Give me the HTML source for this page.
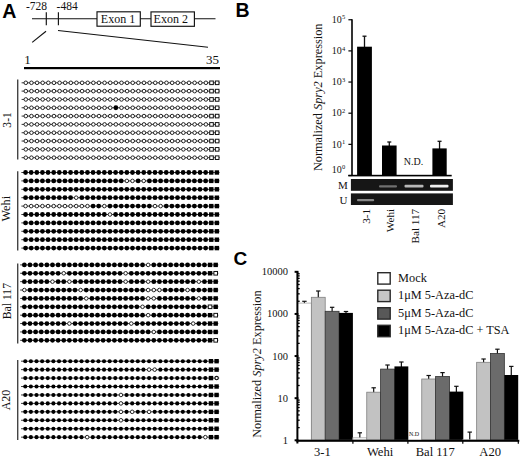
<!DOCTYPE html>
<html><head><meta charset="utf-8"><title>Figure</title>
<style>html,body{margin:0;padding:0;background:#fff;}svg{display:block;}</style>
</head><body>
<svg width="520" height="457" viewBox="0 0 520 457">
<rect width="520" height="457" fill="#fff"/>
<text x="2.3" y="17.6" font-family='"Liberation Sans", sans-serif' font-weight="bold" font-size="19.6">A</text>
<g font-family='"Liberation Serif", serif' font-size="11.5" fill="#111">
<text x="26" y="10.2">-728</text>
<text x="56.6" y="10.2">-484</text>
</g>
<g stroke="#111" stroke-width="1.15" fill="none">
<line x1="32" y1="18.75" x2="215.5" y2="18.75"/>
<line x1="46.3" y1="12.2" x2="46.3" y2="25.2"/>
<line x1="58.4" y1="12.2" x2="58.4" y2="25.2"/>
<rect x="97" y="11.8" width="43.3" height="14.4" fill="#fff"/>
<rect x="151" y="11.9" width="43.4" height="14.4" fill="#fff"/>
<line x1="46" y1="31.3" x2="32.2" y2="42.4"/>
<line x1="58" y1="30.5" x2="208" y2="47.2"/>
</g>
<g font-family='"Liberation Serif", serif' font-size="12" fill="#111">
<text x="100.8" y="23.4">Exon 1</text>
<text x="153.6" y="23.4">Exon 2</text>
</g>
<g font-family='"Liberation Serif", serif' font-size="13" fill="#111">
<text x="24.2" y="63.8">1</text>
<text x="205.9" y="63.8">35</text>
</g>
<rect x="24" y="67" width="196" height="2.2" fill="#000"/>
<line x1="17.7" y1="79.5" x2="17.7" y2="159.4" stroke="#444" stroke-width="1.4"/>
<text transform="translate(11.2,119.9) rotate(-90) scale(1.0,1)" text-anchor="middle" font-family='"Liberation Serif", serif' font-size="11.6" fill="#111">3-1</text>
<line x1="21.60" y1="82.8" x2="219.75" y2="82.8" stroke="#222" stroke-width="0.9"/>
<circle cx="25.8" cy="82.8" r="1.8" fill="#fff" stroke="#1a1a1a" stroke-width="0.95"/>
<circle cx="31.43" cy="82.8" r="1.8" fill="#fff" stroke="#1a1a1a" stroke-width="0.95"/>
<circle cx="37.06" cy="82.8" r="1.8" fill="#fff" stroke="#1a1a1a" stroke-width="0.95"/>
<circle cx="42.68" cy="82.8" r="1.8" fill="#fff" stroke="#1a1a1a" stroke-width="0.95"/>
<circle cx="48.31" cy="82.8" r="1.8" fill="#fff" stroke="#1a1a1a" stroke-width="0.95"/>
<circle cx="53.94" cy="82.8" r="1.8" fill="#fff" stroke="#1a1a1a" stroke-width="0.95"/>
<circle cx="59.57" cy="82.8" r="1.8" fill="#fff" stroke="#1a1a1a" stroke-width="0.95"/>
<circle cx="65.2" cy="82.8" r="1.8" fill="#fff" stroke="#1a1a1a" stroke-width="0.95"/>
<circle cx="70.82" cy="82.8" r="1.8" fill="#fff" stroke="#1a1a1a" stroke-width="0.95"/>
<circle cx="76.45" cy="82.8" r="1.8" fill="#fff" stroke="#1a1a1a" stroke-width="0.95"/>
<circle cx="82.08" cy="82.8" r="1.8" fill="#fff" stroke="#1a1a1a" stroke-width="0.95"/>
<circle cx="87.71" cy="82.8" r="1.8" fill="#fff" stroke="#1a1a1a" stroke-width="0.95"/>
<circle cx="93.34" cy="82.8" r="1.8" fill="#fff" stroke="#1a1a1a" stroke-width="0.95"/>
<circle cx="98.96" cy="82.8" r="1.8" fill="#fff" stroke="#1a1a1a" stroke-width="0.95"/>
<circle cx="104.59" cy="82.8" r="1.8" fill="#fff" stroke="#1a1a1a" stroke-width="0.95"/>
<circle cx="110.22" cy="82.8" r="1.8" fill="#fff" stroke="#1a1a1a" stroke-width="0.95"/>
<circle cx="115.85" cy="82.8" r="1.8" fill="#fff" stroke="#1a1a1a" stroke-width="0.95"/>
<circle cx="121.48" cy="82.8" r="1.8" fill="#fff" stroke="#1a1a1a" stroke-width="0.95"/>
<circle cx="127.1" cy="82.8" r="1.8" fill="#fff" stroke="#1a1a1a" stroke-width="0.95"/>
<circle cx="132.73" cy="82.8" r="1.8" fill="#fff" stroke="#1a1a1a" stroke-width="0.95"/>
<circle cx="138.36" cy="82.8" r="1.8" fill="#fff" stroke="#1a1a1a" stroke-width="0.95"/>
<circle cx="143.99" cy="82.8" r="1.8" fill="#fff" stroke="#1a1a1a" stroke-width="0.95"/>
<circle cx="149.62" cy="82.8" r="1.8" fill="#fff" stroke="#1a1a1a" stroke-width="0.95"/>
<circle cx="155.24" cy="82.8" r="1.8" fill="#fff" stroke="#1a1a1a" stroke-width="0.95"/>
<circle cx="160.87" cy="82.8" r="1.8" fill="#fff" stroke="#1a1a1a" stroke-width="0.95"/>
<circle cx="166.5" cy="82.8" r="1.8" fill="#fff" stroke="#1a1a1a" stroke-width="0.95"/>
<circle cx="172.13" cy="82.8" r="1.8" fill="#fff" stroke="#1a1a1a" stroke-width="0.95"/>
<circle cx="177.76" cy="82.8" r="1.8" fill="#fff" stroke="#1a1a1a" stroke-width="0.95"/>
<circle cx="183.38" cy="82.8" r="1.8" fill="#fff" stroke="#1a1a1a" stroke-width="0.95"/>
<circle cx="189.01" cy="82.8" r="1.8" fill="#fff" stroke="#1a1a1a" stroke-width="0.95"/>
<circle cx="194.64" cy="82.8" r="1.8" fill="#fff" stroke="#1a1a1a" stroke-width="0.95"/>
<circle cx="200.27" cy="82.8" r="1.8" fill="#fff" stroke="#1a1a1a" stroke-width="0.95"/>
<circle cx="205.9" cy="82.8" r="1.8" fill="#fff" stroke="#1a1a1a" stroke-width="0.95"/>
<rect x="209.72" y="81.00" width="3.6" height="3.6" fill="#fff" stroke="#111" stroke-width="1"/>
<rect x="215.35" y="81.00" width="3.6" height="3.6" fill="#fff" stroke="#111" stroke-width="1"/>
<line x1="21.60" y1="91.12" x2="219.75" y2="91.12" stroke="#222" stroke-width="0.9"/>
<circle cx="25.8" cy="91.12" r="1.8" fill="#fff" stroke="#1a1a1a" stroke-width="0.95"/>
<circle cx="31.43" cy="91.12" r="1.8" fill="#fff" stroke="#1a1a1a" stroke-width="0.95"/>
<circle cx="37.06" cy="91.12" r="1.8" fill="#fff" stroke="#1a1a1a" stroke-width="0.95"/>
<circle cx="42.68" cy="91.12" r="1.8" fill="#fff" stroke="#1a1a1a" stroke-width="0.95"/>
<circle cx="48.31" cy="91.12" r="1.8" fill="#fff" stroke="#1a1a1a" stroke-width="0.95"/>
<circle cx="53.94" cy="91.12" r="1.8" fill="#fff" stroke="#1a1a1a" stroke-width="0.95"/>
<circle cx="59.57" cy="91.12" r="1.8" fill="#fff" stroke="#1a1a1a" stroke-width="0.95"/>
<circle cx="65.2" cy="91.12" r="1.8" fill="#fff" stroke="#1a1a1a" stroke-width="0.95"/>
<circle cx="70.82" cy="91.12" r="1.8" fill="#fff" stroke="#1a1a1a" stroke-width="0.95"/>
<circle cx="76.45" cy="91.12" r="1.8" fill="#fff" stroke="#1a1a1a" stroke-width="0.95"/>
<circle cx="82.08" cy="91.12" r="1.8" fill="#fff" stroke="#1a1a1a" stroke-width="0.95"/>
<circle cx="87.71" cy="91.12" r="1.8" fill="#fff" stroke="#1a1a1a" stroke-width="0.95"/>
<circle cx="93.34" cy="91.12" r="1.8" fill="#fff" stroke="#1a1a1a" stroke-width="0.95"/>
<circle cx="98.96" cy="91.12" r="1.8" fill="#fff" stroke="#1a1a1a" stroke-width="0.95"/>
<circle cx="104.59" cy="91.12" r="1.8" fill="#fff" stroke="#1a1a1a" stroke-width="0.95"/>
<circle cx="110.22" cy="91.12" r="1.8" fill="#fff" stroke="#1a1a1a" stroke-width="0.95"/>
<circle cx="115.85" cy="91.12" r="1.8" fill="#fff" stroke="#1a1a1a" stroke-width="0.95"/>
<circle cx="121.48" cy="91.12" r="1.8" fill="#fff" stroke="#1a1a1a" stroke-width="0.95"/>
<circle cx="127.1" cy="91.12" r="1.8" fill="#fff" stroke="#1a1a1a" stroke-width="0.95"/>
<circle cx="132.73" cy="91.12" r="1.8" fill="#fff" stroke="#1a1a1a" stroke-width="0.95"/>
<circle cx="138.36" cy="91.12" r="1.8" fill="#fff" stroke="#1a1a1a" stroke-width="0.95"/>
<circle cx="143.99" cy="91.12" r="1.8" fill="#fff" stroke="#1a1a1a" stroke-width="0.95"/>
<circle cx="149.62" cy="91.12" r="1.8" fill="#fff" stroke="#1a1a1a" stroke-width="0.95"/>
<circle cx="155.24" cy="91.12" r="1.8" fill="#fff" stroke="#1a1a1a" stroke-width="0.95"/>
<circle cx="160.87" cy="91.12" r="1.8" fill="#fff" stroke="#1a1a1a" stroke-width="0.95"/>
<circle cx="166.5" cy="91.12" r="1.8" fill="#fff" stroke="#1a1a1a" stroke-width="0.95"/>
<circle cx="172.13" cy="91.12" r="1.8" fill="#fff" stroke="#1a1a1a" stroke-width="0.95"/>
<circle cx="177.76" cy="91.12" r="1.8" fill="#fff" stroke="#1a1a1a" stroke-width="0.95"/>
<circle cx="183.38" cy="91.12" r="1.8" fill="#fff" stroke="#1a1a1a" stroke-width="0.95"/>
<circle cx="189.01" cy="91.12" r="1.8" fill="#fff" stroke="#1a1a1a" stroke-width="0.95"/>
<circle cx="194.64" cy="91.12" r="1.8" fill="#fff" stroke="#1a1a1a" stroke-width="0.95"/>
<circle cx="200.27" cy="91.12" r="1.8" fill="#fff" stroke="#1a1a1a" stroke-width="0.95"/>
<circle cx="205.9" cy="91.12" r="1.8" fill="#fff" stroke="#1a1a1a" stroke-width="0.95"/>
<rect x="209.72" y="89.32" width="3.6" height="3.6" fill="#fff" stroke="#111" stroke-width="1"/>
<rect x="215.35" y="89.32" width="3.6" height="3.6" fill="#fff" stroke="#111" stroke-width="1"/>
<line x1="21.60" y1="99.44" x2="219.75" y2="99.44" stroke="#222" stroke-width="0.9"/>
<circle cx="25.8" cy="99.44" r="1.8" fill="#fff" stroke="#1a1a1a" stroke-width="0.95"/>
<circle cx="31.43" cy="99.44" r="1.8" fill="#fff" stroke="#1a1a1a" stroke-width="0.95"/>
<circle cx="37.06" cy="99.44" r="1.8" fill="#fff" stroke="#1a1a1a" stroke-width="0.95"/>
<circle cx="42.68" cy="99.44" r="1.8" fill="#fff" stroke="#1a1a1a" stroke-width="0.95"/>
<circle cx="48.31" cy="99.44" r="1.8" fill="#fff" stroke="#1a1a1a" stroke-width="0.95"/>
<circle cx="53.94" cy="99.44" r="1.8" fill="#fff" stroke="#1a1a1a" stroke-width="0.95"/>
<circle cx="59.57" cy="99.44" r="1.8" fill="#fff" stroke="#1a1a1a" stroke-width="0.95"/>
<circle cx="65.2" cy="99.44" r="1.8" fill="#fff" stroke="#1a1a1a" stroke-width="0.95"/>
<circle cx="70.82" cy="99.44" r="1.8" fill="#fff" stroke="#1a1a1a" stroke-width="0.95"/>
<circle cx="76.45" cy="99.44" r="1.8" fill="#fff" stroke="#1a1a1a" stroke-width="0.95"/>
<circle cx="82.08" cy="99.44" r="1.8" fill="#fff" stroke="#1a1a1a" stroke-width="0.95"/>
<circle cx="87.71" cy="99.44" r="1.8" fill="#fff" stroke="#1a1a1a" stroke-width="0.95"/>
<circle cx="93.34" cy="99.44" r="1.8" fill="#fff" stroke="#1a1a1a" stroke-width="0.95"/>
<circle cx="98.96" cy="99.44" r="1.8" fill="#fff" stroke="#1a1a1a" stroke-width="0.95"/>
<circle cx="104.59" cy="99.44" r="1.8" fill="#fff" stroke="#1a1a1a" stroke-width="0.95"/>
<circle cx="110.22" cy="99.44" r="1.8" fill="#fff" stroke="#1a1a1a" stroke-width="0.95"/>
<circle cx="115.85" cy="99.44" r="1.8" fill="#fff" stroke="#1a1a1a" stroke-width="0.95"/>
<circle cx="121.48" cy="99.44" r="1.8" fill="#fff" stroke="#1a1a1a" stroke-width="0.95"/>
<circle cx="127.1" cy="99.44" r="1.8" fill="#fff" stroke="#1a1a1a" stroke-width="0.95"/>
<circle cx="132.73" cy="99.44" r="1.8" fill="#fff" stroke="#1a1a1a" stroke-width="0.95"/>
<circle cx="138.36" cy="99.44" r="1.8" fill="#fff" stroke="#1a1a1a" stroke-width="0.95"/>
<circle cx="143.99" cy="99.44" r="1.8" fill="#fff" stroke="#1a1a1a" stroke-width="0.95"/>
<circle cx="149.62" cy="99.44" r="1.8" fill="#fff" stroke="#1a1a1a" stroke-width="0.95"/>
<circle cx="155.24" cy="99.44" r="1.8" fill="#fff" stroke="#1a1a1a" stroke-width="0.95"/>
<circle cx="160.87" cy="99.44" r="1.8" fill="#fff" stroke="#1a1a1a" stroke-width="0.95"/>
<circle cx="166.5" cy="99.44" r="1.8" fill="#fff" stroke="#1a1a1a" stroke-width="0.95"/>
<circle cx="172.13" cy="99.44" r="1.8" fill="#fff" stroke="#1a1a1a" stroke-width="0.95"/>
<circle cx="177.76" cy="99.44" r="1.8" fill="#fff" stroke="#1a1a1a" stroke-width="0.95"/>
<circle cx="183.38" cy="99.44" r="1.8" fill="#fff" stroke="#1a1a1a" stroke-width="0.95"/>
<circle cx="189.01" cy="99.44" r="1.8" fill="#fff" stroke="#1a1a1a" stroke-width="0.95"/>
<circle cx="194.64" cy="99.44" r="1.8" fill="#fff" stroke="#1a1a1a" stroke-width="0.95"/>
<circle cx="200.27" cy="99.44" r="1.8" fill="#fff" stroke="#1a1a1a" stroke-width="0.95"/>
<circle cx="205.9" cy="99.44" r="1.8" fill="#fff" stroke="#1a1a1a" stroke-width="0.95"/>
<rect x="209.72" y="97.64" width="3.6" height="3.6" fill="#fff" stroke="#111" stroke-width="1"/>
<rect x="215.35" y="97.64" width="3.6" height="3.6" fill="#fff" stroke="#111" stroke-width="1"/>
<line x1="21.60" y1="107.76" x2="219.75" y2="107.76" stroke="#222" stroke-width="0.9"/>
<circle cx="25.8" cy="107.76" r="1.8" fill="#fff" stroke="#1a1a1a" stroke-width="0.95"/>
<circle cx="31.43" cy="107.76" r="1.8" fill="#fff" stroke="#1a1a1a" stroke-width="0.95"/>
<circle cx="37.06" cy="107.76" r="1.8" fill="#fff" stroke="#1a1a1a" stroke-width="0.95"/>
<circle cx="42.68" cy="107.76" r="1.8" fill="#fff" stroke="#1a1a1a" stroke-width="0.95"/>
<circle cx="48.31" cy="107.76" r="1.8" fill="#fff" stroke="#1a1a1a" stroke-width="0.95"/>
<circle cx="53.94" cy="107.76" r="1.8" fill="#fff" stroke="#1a1a1a" stroke-width="0.95"/>
<circle cx="59.57" cy="107.76" r="1.8" fill="#fff" stroke="#1a1a1a" stroke-width="0.95"/>
<circle cx="65.2" cy="107.76" r="1.8" fill="#fff" stroke="#1a1a1a" stroke-width="0.95"/>
<circle cx="70.82" cy="107.76" r="1.8" fill="#fff" stroke="#1a1a1a" stroke-width="0.95"/>
<circle cx="76.45" cy="107.76" r="1.8" fill="#fff" stroke="#1a1a1a" stroke-width="0.95"/>
<circle cx="82.08" cy="107.76" r="1.8" fill="#fff" stroke="#1a1a1a" stroke-width="0.95"/>
<circle cx="87.71" cy="107.76" r="1.8" fill="#fff" stroke="#1a1a1a" stroke-width="0.95"/>
<circle cx="93.34" cy="107.76" r="1.8" fill="#fff" stroke="#1a1a1a" stroke-width="0.95"/>
<circle cx="98.96" cy="107.76" r="1.8" fill="#fff" stroke="#1a1a1a" stroke-width="0.95"/>
<circle cx="104.59" cy="107.76" r="1.8" fill="#fff" stroke="#1a1a1a" stroke-width="0.95"/>
<circle cx="110.22" cy="107.76" r="1.8" fill="#fff" stroke="#1a1a1a" stroke-width="0.95"/>
<circle cx="115.85" cy="107.76" r="2.4" fill="#000"/>
<circle cx="121.48" cy="107.76" r="1.8" fill="#fff" stroke="#1a1a1a" stroke-width="0.95"/>
<circle cx="127.1" cy="107.76" r="1.8" fill="#fff" stroke="#1a1a1a" stroke-width="0.95"/>
<circle cx="132.73" cy="107.76" r="1.8" fill="#fff" stroke="#1a1a1a" stroke-width="0.95"/>
<circle cx="138.36" cy="107.76" r="1.8" fill="#fff" stroke="#1a1a1a" stroke-width="0.95"/>
<circle cx="143.99" cy="107.76" r="1.8" fill="#fff" stroke="#1a1a1a" stroke-width="0.95"/>
<circle cx="149.62" cy="107.76" r="1.8" fill="#fff" stroke="#1a1a1a" stroke-width="0.95"/>
<circle cx="155.24" cy="107.76" r="1.8" fill="#fff" stroke="#1a1a1a" stroke-width="0.95"/>
<circle cx="160.87" cy="107.76" r="1.8" fill="#fff" stroke="#1a1a1a" stroke-width="0.95"/>
<circle cx="166.5" cy="107.76" r="1.8" fill="#fff" stroke="#1a1a1a" stroke-width="0.95"/>
<circle cx="172.13" cy="107.76" r="1.8" fill="#fff" stroke="#1a1a1a" stroke-width="0.95"/>
<circle cx="177.76" cy="107.76" r="1.8" fill="#fff" stroke="#1a1a1a" stroke-width="0.95"/>
<circle cx="183.38" cy="107.76" r="1.8" fill="#fff" stroke="#1a1a1a" stroke-width="0.95"/>
<circle cx="189.01" cy="107.76" r="1.8" fill="#fff" stroke="#1a1a1a" stroke-width="0.95"/>
<circle cx="194.64" cy="107.76" r="1.8" fill="#fff" stroke="#1a1a1a" stroke-width="0.95"/>
<circle cx="200.27" cy="107.76" r="1.8" fill="#fff" stroke="#1a1a1a" stroke-width="0.95"/>
<circle cx="205.9" cy="107.76" r="1.8" fill="#fff" stroke="#1a1a1a" stroke-width="0.95"/>
<rect x="209.72" y="105.96" width="3.6" height="3.6" fill="#fff" stroke="#111" stroke-width="1"/>
<rect x="215.35" y="105.96" width="3.6" height="3.6" fill="#fff" stroke="#111" stroke-width="1"/>
<line x1="21.60" y1="116.08" x2="219.75" y2="116.08" stroke="#222" stroke-width="0.9"/>
<circle cx="25.8" cy="116.08" r="1.8" fill="#fff" stroke="#1a1a1a" stroke-width="0.95"/>
<circle cx="31.43" cy="116.08" r="1.8" fill="#fff" stroke="#1a1a1a" stroke-width="0.95"/>
<circle cx="37.06" cy="116.08" r="1.8" fill="#fff" stroke="#1a1a1a" stroke-width="0.95"/>
<circle cx="42.68" cy="116.08" r="1.8" fill="#fff" stroke="#1a1a1a" stroke-width="0.95"/>
<circle cx="48.31" cy="116.08" r="1.8" fill="#fff" stroke="#1a1a1a" stroke-width="0.95"/>
<circle cx="53.94" cy="116.08" r="1.8" fill="#fff" stroke="#1a1a1a" stroke-width="0.95"/>
<circle cx="59.57" cy="116.08" r="1.8" fill="#fff" stroke="#1a1a1a" stroke-width="0.95"/>
<circle cx="65.2" cy="116.08" r="1.8" fill="#fff" stroke="#1a1a1a" stroke-width="0.95"/>
<circle cx="70.82" cy="116.08" r="1.8" fill="#fff" stroke="#1a1a1a" stroke-width="0.95"/>
<circle cx="76.45" cy="116.08" r="1.8" fill="#fff" stroke="#1a1a1a" stroke-width="0.95"/>
<circle cx="82.08" cy="116.08" r="1.8" fill="#fff" stroke="#1a1a1a" stroke-width="0.95"/>
<circle cx="87.71" cy="116.08" r="1.8" fill="#fff" stroke="#1a1a1a" stroke-width="0.95"/>
<circle cx="93.34" cy="116.08" r="1.8" fill="#fff" stroke="#1a1a1a" stroke-width="0.95"/>
<circle cx="98.96" cy="116.08" r="1.8" fill="#fff" stroke="#1a1a1a" stroke-width="0.95"/>
<circle cx="104.59" cy="116.08" r="1.8" fill="#fff" stroke="#1a1a1a" stroke-width="0.95"/>
<circle cx="110.22" cy="116.08" r="1.8" fill="#fff" stroke="#1a1a1a" stroke-width="0.95"/>
<circle cx="115.85" cy="116.08" r="1.8" fill="#fff" stroke="#1a1a1a" stroke-width="0.95"/>
<circle cx="121.48" cy="116.08" r="1.8" fill="#fff" stroke="#1a1a1a" stroke-width="0.95"/>
<circle cx="127.1" cy="116.08" r="1.8" fill="#fff" stroke="#1a1a1a" stroke-width="0.95"/>
<circle cx="132.73" cy="116.08" r="1.8" fill="#fff" stroke="#1a1a1a" stroke-width="0.95"/>
<circle cx="138.36" cy="116.08" r="1.8" fill="#fff" stroke="#1a1a1a" stroke-width="0.95"/>
<circle cx="143.99" cy="116.08" r="1.8" fill="#fff" stroke="#1a1a1a" stroke-width="0.95"/>
<circle cx="149.62" cy="116.08" r="1.8" fill="#fff" stroke="#1a1a1a" stroke-width="0.95"/>
<circle cx="155.24" cy="116.08" r="1.8" fill="#fff" stroke="#1a1a1a" stroke-width="0.95"/>
<circle cx="160.87" cy="116.08" r="1.8" fill="#fff" stroke="#1a1a1a" stroke-width="0.95"/>
<circle cx="166.5" cy="116.08" r="1.8" fill="#fff" stroke="#1a1a1a" stroke-width="0.95"/>
<circle cx="172.13" cy="116.08" r="1.8" fill="#fff" stroke="#1a1a1a" stroke-width="0.95"/>
<circle cx="177.76" cy="116.08" r="1.8" fill="#fff" stroke="#1a1a1a" stroke-width="0.95"/>
<circle cx="183.38" cy="116.08" r="1.8" fill="#fff" stroke="#1a1a1a" stroke-width="0.95"/>
<circle cx="189.01" cy="116.08" r="1.8" fill="#fff" stroke="#1a1a1a" stroke-width="0.95"/>
<circle cx="194.64" cy="116.08" r="1.8" fill="#fff" stroke="#1a1a1a" stroke-width="0.95"/>
<circle cx="200.27" cy="116.08" r="1.8" fill="#fff" stroke="#1a1a1a" stroke-width="0.95"/>
<circle cx="205.9" cy="116.08" r="1.8" fill="#fff" stroke="#1a1a1a" stroke-width="0.95"/>
<rect x="209.72" y="114.28" width="3.6" height="3.6" fill="#fff" stroke="#111" stroke-width="1"/>
<rect x="215.35" y="114.28" width="3.6" height="3.6" fill="#fff" stroke="#111" stroke-width="1"/>
<line x1="21.60" y1="124.4" x2="219.75" y2="124.4" stroke="#222" stroke-width="0.9"/>
<circle cx="25.8" cy="124.4" r="1.8" fill="#fff" stroke="#1a1a1a" stroke-width="0.95"/>
<circle cx="31.43" cy="124.4" r="1.8" fill="#fff" stroke="#1a1a1a" stroke-width="0.95"/>
<circle cx="37.06" cy="124.4" r="1.8" fill="#fff" stroke="#1a1a1a" stroke-width="0.95"/>
<circle cx="42.68" cy="124.4" r="1.8" fill="#fff" stroke="#1a1a1a" stroke-width="0.95"/>
<circle cx="48.31" cy="124.4" r="1.8" fill="#fff" stroke="#1a1a1a" stroke-width="0.95"/>
<circle cx="53.94" cy="124.4" r="1.8" fill="#fff" stroke="#1a1a1a" stroke-width="0.95"/>
<circle cx="59.57" cy="124.4" r="1.8" fill="#fff" stroke="#1a1a1a" stroke-width="0.95"/>
<circle cx="65.2" cy="124.4" r="1.8" fill="#fff" stroke="#1a1a1a" stroke-width="0.95"/>
<circle cx="70.82" cy="124.4" r="1.8" fill="#fff" stroke="#1a1a1a" stroke-width="0.95"/>
<circle cx="76.45" cy="124.4" r="1.8" fill="#fff" stroke="#1a1a1a" stroke-width="0.95"/>
<circle cx="82.08" cy="124.4" r="1.8" fill="#fff" stroke="#1a1a1a" stroke-width="0.95"/>
<circle cx="87.71" cy="124.4" r="1.8" fill="#fff" stroke="#1a1a1a" stroke-width="0.95"/>
<circle cx="93.34" cy="124.4" r="1.8" fill="#fff" stroke="#1a1a1a" stroke-width="0.95"/>
<circle cx="98.96" cy="124.4" r="1.8" fill="#fff" stroke="#1a1a1a" stroke-width="0.95"/>
<circle cx="104.59" cy="124.4" r="1.8" fill="#fff" stroke="#1a1a1a" stroke-width="0.95"/>
<circle cx="110.22" cy="124.4" r="1.8" fill="#fff" stroke="#1a1a1a" stroke-width="0.95"/>
<circle cx="115.85" cy="124.4" r="1.8" fill="#fff" stroke="#1a1a1a" stroke-width="0.95"/>
<circle cx="121.48" cy="124.4" r="1.8" fill="#fff" stroke="#1a1a1a" stroke-width="0.95"/>
<circle cx="127.1" cy="124.4" r="1.8" fill="#fff" stroke="#1a1a1a" stroke-width="0.95"/>
<circle cx="132.73" cy="124.4" r="1.8" fill="#fff" stroke="#1a1a1a" stroke-width="0.95"/>
<circle cx="138.36" cy="124.4" r="1.8" fill="#fff" stroke="#1a1a1a" stroke-width="0.95"/>
<circle cx="143.99" cy="124.4" r="1.8" fill="#fff" stroke="#1a1a1a" stroke-width="0.95"/>
<circle cx="149.62" cy="124.4" r="1.8" fill="#fff" stroke="#1a1a1a" stroke-width="0.95"/>
<circle cx="155.24" cy="124.4" r="1.8" fill="#fff" stroke="#1a1a1a" stroke-width="0.95"/>
<circle cx="160.87" cy="124.4" r="1.8" fill="#fff" stroke="#1a1a1a" stroke-width="0.95"/>
<circle cx="166.5" cy="124.4" r="1.8" fill="#fff" stroke="#1a1a1a" stroke-width="0.95"/>
<circle cx="172.13" cy="124.4" r="1.8" fill="#fff" stroke="#1a1a1a" stroke-width="0.95"/>
<circle cx="177.76" cy="124.4" r="1.8" fill="#fff" stroke="#1a1a1a" stroke-width="0.95"/>
<circle cx="183.38" cy="124.4" r="1.8" fill="#fff" stroke="#1a1a1a" stroke-width="0.95"/>
<circle cx="189.01" cy="124.4" r="1.8" fill="#fff" stroke="#1a1a1a" stroke-width="0.95"/>
<circle cx="194.64" cy="124.4" r="1.8" fill="#fff" stroke="#1a1a1a" stroke-width="0.95"/>
<circle cx="200.27" cy="124.4" r="1.8" fill="#fff" stroke="#1a1a1a" stroke-width="0.95"/>
<circle cx="205.9" cy="124.4" r="1.8" fill="#fff" stroke="#1a1a1a" stroke-width="0.95"/>
<rect x="209.72" y="122.60" width="3.6" height="3.6" fill="#fff" stroke="#111" stroke-width="1"/>
<rect x="215.35" y="122.60" width="3.6" height="3.6" fill="#fff" stroke="#111" stroke-width="1"/>
<line x1="21.60" y1="132.72" x2="219.75" y2="132.72" stroke="#222" stroke-width="0.9"/>
<circle cx="25.8" cy="132.72" r="1.8" fill="#fff" stroke="#1a1a1a" stroke-width="0.95"/>
<circle cx="31.43" cy="132.72" r="1.8" fill="#fff" stroke="#1a1a1a" stroke-width="0.95"/>
<circle cx="37.06" cy="132.72" r="1.8" fill="#fff" stroke="#1a1a1a" stroke-width="0.95"/>
<circle cx="42.68" cy="132.72" r="1.8" fill="#fff" stroke="#1a1a1a" stroke-width="0.95"/>
<circle cx="48.31" cy="132.72" r="1.8" fill="#fff" stroke="#1a1a1a" stroke-width="0.95"/>
<circle cx="53.94" cy="132.72" r="1.8" fill="#fff" stroke="#1a1a1a" stroke-width="0.95"/>
<circle cx="59.57" cy="132.72" r="1.8" fill="#fff" stroke="#1a1a1a" stroke-width="0.95"/>
<circle cx="65.2" cy="132.72" r="1.8" fill="#fff" stroke="#1a1a1a" stroke-width="0.95"/>
<circle cx="70.82" cy="132.72" r="1.8" fill="#fff" stroke="#1a1a1a" stroke-width="0.95"/>
<circle cx="76.45" cy="132.72" r="1.8" fill="#fff" stroke="#1a1a1a" stroke-width="0.95"/>
<circle cx="82.08" cy="132.72" r="1.8" fill="#fff" stroke="#1a1a1a" stroke-width="0.95"/>
<circle cx="87.71" cy="132.72" r="1.8" fill="#fff" stroke="#1a1a1a" stroke-width="0.95"/>
<circle cx="93.34" cy="132.72" r="1.8" fill="#fff" stroke="#1a1a1a" stroke-width="0.95"/>
<circle cx="98.96" cy="132.72" r="1.8" fill="#fff" stroke="#1a1a1a" stroke-width="0.95"/>
<circle cx="104.59" cy="132.72" r="1.8" fill="#fff" stroke="#1a1a1a" stroke-width="0.95"/>
<circle cx="110.22" cy="132.72" r="1.8" fill="#fff" stroke="#1a1a1a" stroke-width="0.95"/>
<circle cx="115.85" cy="132.72" r="1.8" fill="#fff" stroke="#1a1a1a" stroke-width="0.95"/>
<circle cx="121.48" cy="132.72" r="1.8" fill="#fff" stroke="#1a1a1a" stroke-width="0.95"/>
<circle cx="127.1" cy="132.72" r="1.8" fill="#fff" stroke="#1a1a1a" stroke-width="0.95"/>
<circle cx="132.73" cy="132.72" r="1.8" fill="#fff" stroke="#1a1a1a" stroke-width="0.95"/>
<circle cx="138.36" cy="132.72" r="1.8" fill="#fff" stroke="#1a1a1a" stroke-width="0.95"/>
<circle cx="143.99" cy="132.72" r="1.8" fill="#fff" stroke="#1a1a1a" stroke-width="0.95"/>
<circle cx="149.62" cy="132.72" r="1.8" fill="#fff" stroke="#1a1a1a" stroke-width="0.95"/>
<circle cx="155.24" cy="132.72" r="1.8" fill="#fff" stroke="#1a1a1a" stroke-width="0.95"/>
<circle cx="160.87" cy="132.72" r="1.8" fill="#fff" stroke="#1a1a1a" stroke-width="0.95"/>
<circle cx="166.5" cy="132.72" r="1.8" fill="#fff" stroke="#1a1a1a" stroke-width="0.95"/>
<circle cx="172.13" cy="132.72" r="1.8" fill="#fff" stroke="#1a1a1a" stroke-width="0.95"/>
<circle cx="177.76" cy="132.72" r="1.8" fill="#fff" stroke="#1a1a1a" stroke-width="0.95"/>
<circle cx="183.38" cy="132.72" r="1.8" fill="#fff" stroke="#1a1a1a" stroke-width="0.95"/>
<circle cx="189.01" cy="132.72" r="1.8" fill="#fff" stroke="#1a1a1a" stroke-width="0.95"/>
<circle cx="194.64" cy="132.72" r="1.8" fill="#fff" stroke="#1a1a1a" stroke-width="0.95"/>
<circle cx="200.27" cy="132.72" r="1.8" fill="#fff" stroke="#1a1a1a" stroke-width="0.95"/>
<circle cx="205.9" cy="132.72" r="1.8" fill="#fff" stroke="#1a1a1a" stroke-width="0.95"/>
<rect x="209.72" y="130.92" width="3.6" height="3.6" fill="#fff" stroke="#111" stroke-width="1"/>
<rect x="215.35" y="130.92" width="3.6" height="3.6" fill="#fff" stroke="#111" stroke-width="1"/>
<line x1="21.60" y1="141.04" x2="219.75" y2="141.04" stroke="#222" stroke-width="0.9"/>
<circle cx="25.8" cy="141.04" r="1.8" fill="#fff" stroke="#1a1a1a" stroke-width="0.95"/>
<circle cx="31.43" cy="141.04" r="1.8" fill="#fff" stroke="#1a1a1a" stroke-width="0.95"/>
<circle cx="37.06" cy="141.04" r="1.8" fill="#fff" stroke="#1a1a1a" stroke-width="0.95"/>
<circle cx="42.68" cy="141.04" r="1.8" fill="#fff" stroke="#1a1a1a" stroke-width="0.95"/>
<circle cx="48.31" cy="141.04" r="1.8" fill="#fff" stroke="#1a1a1a" stroke-width="0.95"/>
<circle cx="53.94" cy="141.04" r="1.8" fill="#fff" stroke="#1a1a1a" stroke-width="0.95"/>
<circle cx="59.57" cy="141.04" r="1.8" fill="#fff" stroke="#1a1a1a" stroke-width="0.95"/>
<circle cx="65.2" cy="141.04" r="1.8" fill="#fff" stroke="#1a1a1a" stroke-width="0.95"/>
<circle cx="70.82" cy="141.04" r="1.8" fill="#fff" stroke="#1a1a1a" stroke-width="0.95"/>
<circle cx="76.45" cy="141.04" r="1.8" fill="#fff" stroke="#1a1a1a" stroke-width="0.95"/>
<circle cx="82.08" cy="141.04" r="1.8" fill="#fff" stroke="#1a1a1a" stroke-width="0.95"/>
<circle cx="87.71" cy="141.04" r="1.8" fill="#fff" stroke="#1a1a1a" stroke-width="0.95"/>
<circle cx="93.34" cy="141.04" r="1.8" fill="#fff" stroke="#1a1a1a" stroke-width="0.95"/>
<circle cx="98.96" cy="141.04" r="1.8" fill="#fff" stroke="#1a1a1a" stroke-width="0.95"/>
<circle cx="104.59" cy="141.04" r="1.8" fill="#fff" stroke="#1a1a1a" stroke-width="0.95"/>
<circle cx="110.22" cy="141.04" r="1.8" fill="#fff" stroke="#1a1a1a" stroke-width="0.95"/>
<circle cx="115.85" cy="141.04" r="1.8" fill="#fff" stroke="#1a1a1a" stroke-width="0.95"/>
<circle cx="121.48" cy="141.04" r="1.8" fill="#fff" stroke="#1a1a1a" stroke-width="0.95"/>
<circle cx="127.1" cy="141.04" r="1.8" fill="#fff" stroke="#1a1a1a" stroke-width="0.95"/>
<circle cx="132.73" cy="141.04" r="1.8" fill="#fff" stroke="#1a1a1a" stroke-width="0.95"/>
<circle cx="138.36" cy="141.04" r="1.8" fill="#fff" stroke="#1a1a1a" stroke-width="0.95"/>
<circle cx="143.99" cy="141.04" r="1.8" fill="#fff" stroke="#1a1a1a" stroke-width="0.95"/>
<circle cx="149.62" cy="141.04" r="1.8" fill="#fff" stroke="#1a1a1a" stroke-width="0.95"/>
<circle cx="155.24" cy="141.04" r="1.8" fill="#fff" stroke="#1a1a1a" stroke-width="0.95"/>
<circle cx="160.87" cy="141.04" r="1.8" fill="#fff" stroke="#1a1a1a" stroke-width="0.95"/>
<circle cx="166.5" cy="141.04" r="1.8" fill="#fff" stroke="#1a1a1a" stroke-width="0.95"/>
<circle cx="172.13" cy="141.04" r="1.8" fill="#fff" stroke="#1a1a1a" stroke-width="0.95"/>
<circle cx="177.76" cy="141.04" r="1.8" fill="#fff" stroke="#1a1a1a" stroke-width="0.95"/>
<circle cx="183.38" cy="141.04" r="1.8" fill="#fff" stroke="#1a1a1a" stroke-width="0.95"/>
<circle cx="189.01" cy="141.04" r="1.8" fill="#fff" stroke="#1a1a1a" stroke-width="0.95"/>
<circle cx="194.64" cy="141.04" r="1.8" fill="#fff" stroke="#1a1a1a" stroke-width="0.95"/>
<circle cx="200.27" cy="141.04" r="1.8" fill="#fff" stroke="#1a1a1a" stroke-width="0.95"/>
<circle cx="205.9" cy="141.04" r="1.8" fill="#fff" stroke="#1a1a1a" stroke-width="0.95"/>
<rect x="209.72" y="139.24" width="3.6" height="3.6" fill="#fff" stroke="#111" stroke-width="1"/>
<rect x="215.35" y="139.24" width="3.6" height="3.6" fill="#fff" stroke="#111" stroke-width="1"/>
<line x1="21.60" y1="149.36" x2="219.75" y2="149.36" stroke="#222" stroke-width="0.9"/>
<circle cx="25.8" cy="149.36" r="1.8" fill="#fff" stroke="#1a1a1a" stroke-width="0.95"/>
<circle cx="31.43" cy="149.36" r="1.8" fill="#fff" stroke="#1a1a1a" stroke-width="0.95"/>
<circle cx="37.06" cy="149.36" r="1.8" fill="#fff" stroke="#1a1a1a" stroke-width="0.95"/>
<circle cx="42.68" cy="149.36" r="1.8" fill="#fff" stroke="#1a1a1a" stroke-width="0.95"/>
<circle cx="48.31" cy="149.36" r="1.8" fill="#fff" stroke="#1a1a1a" stroke-width="0.95"/>
<circle cx="53.94" cy="149.36" r="1.8" fill="#fff" stroke="#1a1a1a" stroke-width="0.95"/>
<circle cx="59.57" cy="149.36" r="1.8" fill="#fff" stroke="#1a1a1a" stroke-width="0.95"/>
<circle cx="65.2" cy="149.36" r="1.8" fill="#fff" stroke="#1a1a1a" stroke-width="0.95"/>
<circle cx="70.82" cy="149.36" r="1.8" fill="#fff" stroke="#1a1a1a" stroke-width="0.95"/>
<circle cx="76.45" cy="149.36" r="1.8" fill="#fff" stroke="#1a1a1a" stroke-width="0.95"/>
<circle cx="82.08" cy="149.36" r="1.8" fill="#fff" stroke="#1a1a1a" stroke-width="0.95"/>
<circle cx="87.71" cy="149.36" r="1.8" fill="#fff" stroke="#1a1a1a" stroke-width="0.95"/>
<circle cx="93.34" cy="149.36" r="1.8" fill="#fff" stroke="#1a1a1a" stroke-width="0.95"/>
<circle cx="98.96" cy="149.36" r="1.8" fill="#fff" stroke="#1a1a1a" stroke-width="0.95"/>
<circle cx="104.59" cy="149.36" r="1.8" fill="#fff" stroke="#1a1a1a" stroke-width="0.95"/>
<circle cx="110.22" cy="149.36" r="1.8" fill="#fff" stroke="#1a1a1a" stroke-width="0.95"/>
<circle cx="115.85" cy="149.36" r="1.8" fill="#fff" stroke="#1a1a1a" stroke-width="0.95"/>
<circle cx="121.48" cy="149.36" r="1.8" fill="#fff" stroke="#1a1a1a" stroke-width="0.95"/>
<circle cx="127.1" cy="149.36" r="1.8" fill="#fff" stroke="#1a1a1a" stroke-width="0.95"/>
<circle cx="132.73" cy="149.36" r="1.8" fill="#fff" stroke="#1a1a1a" stroke-width="0.95"/>
<circle cx="138.36" cy="149.36" r="1.8" fill="#fff" stroke="#1a1a1a" stroke-width="0.95"/>
<circle cx="143.99" cy="149.36" r="1.8" fill="#fff" stroke="#1a1a1a" stroke-width="0.95"/>
<circle cx="149.62" cy="149.36" r="1.8" fill="#fff" stroke="#1a1a1a" stroke-width="0.95"/>
<circle cx="155.24" cy="149.36" r="1.8" fill="#fff" stroke="#1a1a1a" stroke-width="0.95"/>
<circle cx="160.87" cy="149.36" r="1.8" fill="#fff" stroke="#1a1a1a" stroke-width="0.95"/>
<circle cx="166.5" cy="149.36" r="1.8" fill="#fff" stroke="#1a1a1a" stroke-width="0.95"/>
<circle cx="172.13" cy="149.36" r="1.8" fill="#fff" stroke="#1a1a1a" stroke-width="0.95"/>
<circle cx="177.76" cy="149.36" r="1.8" fill="#fff" stroke="#1a1a1a" stroke-width="0.95"/>
<circle cx="183.38" cy="149.36" r="1.8" fill="#fff" stroke="#1a1a1a" stroke-width="0.95"/>
<circle cx="189.01" cy="149.36" r="1.8" fill="#fff" stroke="#1a1a1a" stroke-width="0.95"/>
<circle cx="194.64" cy="149.36" r="1.8" fill="#fff" stroke="#1a1a1a" stroke-width="0.95"/>
<circle cx="200.27" cy="149.36" r="1.8" fill="#fff" stroke="#1a1a1a" stroke-width="0.95"/>
<circle cx="205.9" cy="149.36" r="1.8" fill="#fff" stroke="#1a1a1a" stroke-width="0.95"/>
<rect x="209.72" y="147.56" width="3.6" height="3.6" fill="#fff" stroke="#111" stroke-width="1"/>
<rect x="215.35" y="147.56" width="3.6" height="3.6" fill="#fff" stroke="#111" stroke-width="1"/>
<line x1="21.60" y1="157.68" x2="219.75" y2="157.68" stroke="#222" stroke-width="0.9"/>
<circle cx="25.8" cy="157.68" r="1.8" fill="#fff" stroke="#1a1a1a" stroke-width="0.95"/>
<circle cx="31.43" cy="157.68" r="1.8" fill="#fff" stroke="#1a1a1a" stroke-width="0.95"/>
<circle cx="37.06" cy="157.68" r="1.8" fill="#fff" stroke="#1a1a1a" stroke-width="0.95"/>
<circle cx="42.68" cy="157.68" r="1.8" fill="#fff" stroke="#1a1a1a" stroke-width="0.95"/>
<circle cx="48.31" cy="157.68" r="1.8" fill="#fff" stroke="#1a1a1a" stroke-width="0.95"/>
<circle cx="53.94" cy="157.68" r="1.8" fill="#fff" stroke="#1a1a1a" stroke-width="0.95"/>
<circle cx="59.57" cy="157.68" r="1.8" fill="#fff" stroke="#1a1a1a" stroke-width="0.95"/>
<circle cx="65.2" cy="157.68" r="1.8" fill="#fff" stroke="#1a1a1a" stroke-width="0.95"/>
<circle cx="70.82" cy="157.68" r="1.8" fill="#fff" stroke="#1a1a1a" stroke-width="0.95"/>
<circle cx="76.45" cy="157.68" r="1.8" fill="#fff" stroke="#1a1a1a" stroke-width="0.95"/>
<circle cx="82.08" cy="157.68" r="1.8" fill="#fff" stroke="#1a1a1a" stroke-width="0.95"/>
<circle cx="87.71" cy="157.68" r="1.8" fill="#fff" stroke="#1a1a1a" stroke-width="0.95"/>
<circle cx="93.34" cy="157.68" r="1.8" fill="#fff" stroke="#1a1a1a" stroke-width="0.95"/>
<circle cx="98.96" cy="157.68" r="1.8" fill="#fff" stroke="#1a1a1a" stroke-width="0.95"/>
<circle cx="104.59" cy="157.68" r="1.8" fill="#fff" stroke="#1a1a1a" stroke-width="0.95"/>
<circle cx="110.22" cy="157.68" r="1.8" fill="#fff" stroke="#1a1a1a" stroke-width="0.95"/>
<circle cx="115.85" cy="157.68" r="1.8" fill="#fff" stroke="#1a1a1a" stroke-width="0.95"/>
<circle cx="121.48" cy="157.68" r="1.8" fill="#fff" stroke="#1a1a1a" stroke-width="0.95"/>
<circle cx="127.1" cy="157.68" r="1.8" fill="#fff" stroke="#1a1a1a" stroke-width="0.95"/>
<circle cx="132.73" cy="157.68" r="1.8" fill="#fff" stroke="#1a1a1a" stroke-width="0.95"/>
<circle cx="138.36" cy="157.68" r="1.8" fill="#fff" stroke="#1a1a1a" stroke-width="0.95"/>
<circle cx="143.99" cy="157.68" r="1.8" fill="#fff" stroke="#1a1a1a" stroke-width="0.95"/>
<circle cx="149.62" cy="157.68" r="1.8" fill="#fff" stroke="#1a1a1a" stroke-width="0.95"/>
<circle cx="155.24" cy="157.68" r="1.8" fill="#fff" stroke="#1a1a1a" stroke-width="0.95"/>
<circle cx="160.87" cy="157.68" r="1.8" fill="#fff" stroke="#1a1a1a" stroke-width="0.95"/>
<circle cx="166.5" cy="157.68" r="1.8" fill="#fff" stroke="#1a1a1a" stroke-width="0.95"/>
<circle cx="172.13" cy="157.68" r="1.8" fill="#fff" stroke="#1a1a1a" stroke-width="0.95"/>
<circle cx="177.76" cy="157.68" r="1.8" fill="#fff" stroke="#1a1a1a" stroke-width="0.95"/>
<circle cx="183.38" cy="157.68" r="1.8" fill="#fff" stroke="#1a1a1a" stroke-width="0.95"/>
<circle cx="189.01" cy="157.68" r="1.8" fill="#fff" stroke="#1a1a1a" stroke-width="0.95"/>
<circle cx="194.64" cy="157.68" r="1.8" fill="#fff" stroke="#1a1a1a" stroke-width="0.95"/>
<circle cx="200.27" cy="157.68" r="1.8" fill="#fff" stroke="#1a1a1a" stroke-width="0.95"/>
<circle cx="205.9" cy="157.68" r="1.8" fill="#fff" stroke="#1a1a1a" stroke-width="0.95"/>
<rect x="209.72" y="155.88" width="3.6" height="3.6" fill="#fff" stroke="#111" stroke-width="1"/>
<rect x="215.35" y="155.88" width="3.6" height="3.6" fill="#fff" stroke="#111" stroke-width="1"/>
<line x1="17.7" y1="171.3" x2="17.7" y2="250.6" stroke="#444" stroke-width="1.4"/>
<text transform="translate(9.8,208.7) rotate(-90) scale(1.0,1)" text-anchor="middle" font-family='"Liberation Serif", serif' font-size="12.2" fill="#111">Wehi</text>
<line x1="21.35" y1="172.5" x2="219.50" y2="172.5" stroke="#222" stroke-width="0.9"/>
<circle cx="25.55" cy="172.5" r="2.4" fill="#000"/>
<circle cx="31.18" cy="172.5" r="2.4" fill="#000"/>
<circle cx="36.81" cy="172.5" r="2.4" fill="#000"/>
<circle cx="42.43" cy="172.5" r="2.4" fill="#000"/>
<circle cx="48.06" cy="172.5" r="2.4" fill="#000"/>
<circle cx="53.69" cy="172.5" r="2.4" fill="#000"/>
<circle cx="59.32" cy="172.5" r="2.4" fill="#000"/>
<circle cx="64.95" cy="172.5" r="2.4" fill="#000"/>
<circle cx="70.57" cy="172.5" r="2.4" fill="#000"/>
<circle cx="76.2" cy="172.5" r="2.4" fill="#000"/>
<circle cx="81.83" cy="172.5" r="2.4" fill="#000"/>
<circle cx="87.46" cy="172.5" r="2.4" fill="#000"/>
<circle cx="93.09" cy="172.5" r="2.4" fill="#000"/>
<circle cx="98.71" cy="172.5" r="2.4" fill="#000"/>
<circle cx="104.34" cy="172.5" r="2.4" fill="#000"/>
<circle cx="109.97" cy="172.5" r="2.4" fill="#000"/>
<circle cx="115.6" cy="172.5" r="2.4" fill="#000"/>
<circle cx="121.23" cy="172.5" r="2.4" fill="#000"/>
<circle cx="126.85" cy="172.5" r="2.4" fill="#000"/>
<circle cx="132.48" cy="172.5" r="2.4" fill="#000"/>
<circle cx="138.11" cy="172.5" r="2.4" fill="#000"/>
<circle cx="143.74" cy="172.5" r="2.4" fill="#000"/>
<circle cx="149.37" cy="172.5" r="2.4" fill="#000"/>
<circle cx="154.99" cy="172.5" r="2.4" fill="#000"/>
<circle cx="160.62" cy="172.5" r="2.4" fill="#000"/>
<circle cx="166.25" cy="172.5" r="2.4" fill="#000"/>
<circle cx="171.88" cy="172.5" r="2.4" fill="#000"/>
<circle cx="177.51" cy="172.5" r="2.4" fill="#000"/>
<circle cx="183.13" cy="172.5" r="2.4" fill="#000"/>
<circle cx="188.76" cy="172.5" r="2.4" fill="#000"/>
<circle cx="194.39" cy="172.5" r="2.4" fill="#000"/>
<circle cx="200.02" cy="172.5" r="2.4" fill="#000"/>
<circle cx="205.65" cy="172.5" r="2.4" fill="#000"/>
<rect x="209.07" y="170.30" width="4.4" height="4.4" fill="#000"/>
<rect x="214.70" y="170.30" width="4.4" height="4.4" fill="#000"/>
<line x1="21.35" y1="180.9" x2="219.50" y2="180.9" stroke="#222" stroke-width="0.9"/>
<circle cx="25.55" cy="180.9" r="2.4" fill="#000"/>
<circle cx="31.18" cy="180.9" r="2.4" fill="#000"/>
<circle cx="36.81" cy="180.9" r="2.4" fill="#000"/>
<circle cx="42.43" cy="180.9" r="2.4" fill="#000"/>
<circle cx="48.06" cy="180.9" r="2.4" fill="#000"/>
<circle cx="53.69" cy="180.9" r="2.4" fill="#000"/>
<circle cx="59.32" cy="180.9" r="2.4" fill="#000"/>
<circle cx="64.95" cy="180.9" r="2.4" fill="#000"/>
<circle cx="70.57" cy="180.9" r="2.4" fill="#000"/>
<circle cx="76.2" cy="180.9" r="2.4" fill="#000"/>
<circle cx="81.83" cy="180.9" r="2.4" fill="#000"/>
<circle cx="87.46" cy="180.9" r="2.4" fill="#000"/>
<circle cx="93.09" cy="180.9" r="2.4" fill="#000"/>
<circle cx="98.71" cy="180.9" r="2.4" fill="#000"/>
<circle cx="104.34" cy="180.9" r="2.4" fill="#000"/>
<circle cx="109.97" cy="180.9" r="2.4" fill="#000"/>
<circle cx="115.6" cy="180.9" r="2.4" fill="#000"/>
<circle cx="121.23" cy="180.9" r="2.4" fill="#000"/>
<circle cx="126.85" cy="180.9" r="1.8" fill="#fff" stroke="#1a1a1a" stroke-width="0.95"/>
<circle cx="132.48" cy="180.9" r="1.8" fill="#fff" stroke="#1a1a1a" stroke-width="0.95"/>
<circle cx="138.11" cy="180.9" r="2.4" fill="#000"/>
<circle cx="143.74" cy="180.9" r="1.8" fill="#fff" stroke="#1a1a1a" stroke-width="0.95"/>
<circle cx="149.37" cy="180.9" r="2.4" fill="#000"/>
<circle cx="154.99" cy="180.9" r="2.4" fill="#000"/>
<circle cx="160.62" cy="180.9" r="2.4" fill="#000"/>
<circle cx="166.25" cy="180.9" r="2.4" fill="#000"/>
<circle cx="171.88" cy="180.9" r="2.4" fill="#000"/>
<circle cx="177.51" cy="180.9" r="2.4" fill="#000"/>
<circle cx="183.13" cy="180.9" r="2.4" fill="#000"/>
<circle cx="188.76" cy="180.9" r="2.4" fill="#000"/>
<circle cx="194.39" cy="180.9" r="2.4" fill="#000"/>
<circle cx="200.02" cy="180.9" r="2.4" fill="#000"/>
<circle cx="205.65" cy="180.9" r="2.4" fill="#000"/>
<rect x="209.07" y="178.70" width="4.4" height="4.4" fill="#000"/>
<rect x="214.70" y="178.70" width="4.4" height="4.4" fill="#000"/>
<line x1="21.35" y1="189.3" x2="219.50" y2="189.3" stroke="#222" stroke-width="0.9"/>
<circle cx="25.55" cy="189.3" r="2.4" fill="#000"/>
<circle cx="31.18" cy="189.3" r="2.4" fill="#000"/>
<circle cx="36.81" cy="189.3" r="2.4" fill="#000"/>
<circle cx="42.43" cy="189.3" r="2.4" fill="#000"/>
<circle cx="48.06" cy="189.3" r="2.4" fill="#000"/>
<circle cx="53.69" cy="189.3" r="2.4" fill="#000"/>
<circle cx="59.32" cy="189.3" r="2.4" fill="#000"/>
<circle cx="64.95" cy="189.3" r="2.4" fill="#000"/>
<circle cx="70.57" cy="189.3" r="2.4" fill="#000"/>
<circle cx="76.2" cy="189.3" r="2.4" fill="#000"/>
<circle cx="81.83" cy="189.3" r="2.4" fill="#000"/>
<circle cx="87.46" cy="189.3" r="2.4" fill="#000"/>
<circle cx="93.09" cy="189.3" r="2.4" fill="#000"/>
<circle cx="98.71" cy="189.3" r="2.4" fill="#000"/>
<circle cx="104.34" cy="189.3" r="2.4" fill="#000"/>
<circle cx="109.97" cy="189.3" r="2.4" fill="#000"/>
<circle cx="115.6" cy="189.3" r="2.4" fill="#000"/>
<circle cx="121.23" cy="189.3" r="2.4" fill="#000"/>
<circle cx="126.85" cy="189.3" r="2.4" fill="#000"/>
<circle cx="132.48" cy="189.3" r="2.4" fill="#000"/>
<circle cx="138.11" cy="189.3" r="2.4" fill="#000"/>
<circle cx="143.74" cy="189.3" r="2.4" fill="#000"/>
<circle cx="149.37" cy="189.3" r="2.4" fill="#000"/>
<circle cx="154.99" cy="189.3" r="2.4" fill="#000"/>
<circle cx="160.62" cy="189.3" r="2.4" fill="#000"/>
<circle cx="166.25" cy="189.3" r="2.4" fill="#000"/>
<circle cx="171.88" cy="189.3" r="2.4" fill="#000"/>
<circle cx="177.51" cy="189.3" r="2.4" fill="#000"/>
<circle cx="183.13" cy="189.3" r="2.4" fill="#000"/>
<circle cx="188.76" cy="189.3" r="2.4" fill="#000"/>
<circle cx="194.39" cy="189.3" r="2.4" fill="#000"/>
<circle cx="200.02" cy="189.3" r="2.4" fill="#000"/>
<circle cx="205.65" cy="189.3" r="2.4" fill="#000"/>
<rect x="209.07" y="187.10" width="4.4" height="4.4" fill="#000"/>
<rect x="214.70" y="187.10" width="4.4" height="4.4" fill="#000"/>
<line x1="21.35" y1="197.7" x2="219.50" y2="197.7" stroke="#222" stroke-width="0.9"/>
<circle cx="25.55" cy="197.7" r="2.4" fill="#000"/>
<circle cx="31.18" cy="197.7" r="2.4" fill="#000"/>
<circle cx="36.81" cy="197.7" r="2.4" fill="#000"/>
<circle cx="42.43" cy="197.7" r="2.4" fill="#000"/>
<circle cx="48.06" cy="197.7" r="2.4" fill="#000"/>
<circle cx="53.69" cy="197.7" r="2.4" fill="#000"/>
<circle cx="59.32" cy="197.7" r="2.4" fill="#000"/>
<circle cx="64.95" cy="197.7" r="2.4" fill="#000"/>
<circle cx="70.57" cy="197.7" r="2.4" fill="#000"/>
<circle cx="76.2" cy="197.7" r="1.8" fill="#fff" stroke="#1a1a1a" stroke-width="0.95"/>
<circle cx="81.83" cy="197.7" r="2.4" fill="#000"/>
<circle cx="87.46" cy="197.7" r="2.4" fill="#000"/>
<circle cx="93.09" cy="197.7" r="2.4" fill="#000"/>
<circle cx="98.71" cy="197.7" r="2.4" fill="#000"/>
<circle cx="104.34" cy="197.7" r="2.4" fill="#000"/>
<circle cx="109.97" cy="197.7" r="2.4" fill="#000"/>
<circle cx="115.6" cy="197.7" r="2.4" fill="#000"/>
<circle cx="121.23" cy="197.7" r="2.4" fill="#000"/>
<circle cx="126.85" cy="197.7" r="2.4" fill="#000"/>
<circle cx="132.48" cy="197.7" r="2.4" fill="#000"/>
<circle cx="138.11" cy="197.7" r="2.4" fill="#000"/>
<circle cx="143.74" cy="197.7" r="2.4" fill="#000"/>
<circle cx="149.37" cy="197.7" r="2.4" fill="#000"/>
<circle cx="154.99" cy="197.7" r="2.4" fill="#000"/>
<circle cx="160.62" cy="197.7" r="2.4" fill="#000"/>
<circle cx="166.25" cy="197.7" r="2.4" fill="#000"/>
<circle cx="171.88" cy="197.7" r="2.4" fill="#000"/>
<circle cx="177.51" cy="197.7" r="2.4" fill="#000"/>
<circle cx="183.13" cy="197.7" r="2.4" fill="#000"/>
<circle cx="188.76" cy="197.7" r="2.4" fill="#000"/>
<circle cx="194.39" cy="197.7" r="2.4" fill="#000"/>
<circle cx="200.02" cy="197.7" r="2.4" fill="#000"/>
<circle cx="205.65" cy="197.7" r="2.4" fill="#000"/>
<rect x="209.07" y="195.50" width="4.4" height="4.4" fill="#000"/>
<rect x="214.70" y="195.50" width="4.4" height="4.4" fill="#000"/>
<line x1="21.35" y1="206.1" x2="219.50" y2="206.1" stroke="#222" stroke-width="0.9"/>
<circle cx="25.55" cy="206.1" r="1.8" fill="#fff" stroke="#1a1a1a" stroke-width="0.95"/>
<circle cx="31.18" cy="206.1" r="1.8" fill="#fff" stroke="#1a1a1a" stroke-width="0.95"/>
<circle cx="36.81" cy="206.1" r="1.8" fill="#fff" stroke="#1a1a1a" stroke-width="0.95"/>
<circle cx="42.43" cy="206.1" r="1.8" fill="#fff" stroke="#1a1a1a" stroke-width="0.95"/>
<circle cx="48.06" cy="206.1" r="1.8" fill="#fff" stroke="#1a1a1a" stroke-width="0.95"/>
<circle cx="53.69" cy="206.1" r="1.8" fill="#fff" stroke="#1a1a1a" stroke-width="0.95"/>
<circle cx="59.32" cy="206.1" r="1.8" fill="#fff" stroke="#1a1a1a" stroke-width="0.95"/>
<circle cx="64.95" cy="206.1" r="1.8" fill="#fff" stroke="#1a1a1a" stroke-width="0.95"/>
<circle cx="70.57" cy="206.1" r="1.8" fill="#fff" stroke="#1a1a1a" stroke-width="0.95"/>
<circle cx="76.2" cy="206.1" r="1.8" fill="#fff" stroke="#1a1a1a" stroke-width="0.95"/>
<circle cx="81.83" cy="206.1" r="1.8" fill="#fff" stroke="#1a1a1a" stroke-width="0.95"/>
<circle cx="87.46" cy="206.1" r="1.8" fill="#fff" stroke="#1a1a1a" stroke-width="0.95"/>
<circle cx="93.09" cy="206.1" r="2.4" fill="#000"/>
<circle cx="98.71" cy="206.1" r="2.4" fill="#000"/>
<circle cx="104.34" cy="206.1" r="1.8" fill="#fff" stroke="#1a1a1a" stroke-width="0.95"/>
<circle cx="109.97" cy="206.1" r="2.4" fill="#000"/>
<circle cx="115.6" cy="206.1" r="2.4" fill="#000"/>
<circle cx="121.23" cy="206.1" r="2.4" fill="#000"/>
<circle cx="126.85" cy="206.1" r="2.4" fill="#000"/>
<circle cx="132.48" cy="206.1" r="2.4" fill="#000"/>
<circle cx="138.11" cy="206.1" r="2.4" fill="#000"/>
<circle cx="143.74" cy="206.1" r="2.4" fill="#000"/>
<circle cx="149.37" cy="206.1" r="2.4" fill="#000"/>
<circle cx="154.99" cy="206.1" r="1.8" fill="#fff" stroke="#1a1a1a" stroke-width="0.95"/>
<circle cx="160.62" cy="206.1" r="1.8" fill="#fff" stroke="#1a1a1a" stroke-width="0.95"/>
<circle cx="166.25" cy="206.1" r="2.4" fill="#000"/>
<circle cx="171.88" cy="206.1" r="2.4" fill="#000"/>
<circle cx="177.51" cy="206.1" r="2.4" fill="#000"/>
<circle cx="183.13" cy="206.1" r="2.4" fill="#000"/>
<circle cx="188.76" cy="206.1" r="2.4" fill="#000"/>
<circle cx="194.39" cy="206.1" r="2.4" fill="#000"/>
<circle cx="200.02" cy="206.1" r="2.4" fill="#000"/>
<circle cx="205.65" cy="206.1" r="2.4" fill="#000"/>
<rect x="209.07" y="203.90" width="4.4" height="4.4" fill="#000"/>
<rect x="214.70" y="203.90" width="4.4" height="4.4" fill="#000"/>
<line x1="21.35" y1="214.5" x2="219.50" y2="214.5" stroke="#222" stroke-width="0.9"/>
<circle cx="25.55" cy="214.5" r="2.4" fill="#000"/>
<circle cx="31.18" cy="214.5" r="2.4" fill="#000"/>
<circle cx="36.81" cy="214.5" r="2.4" fill="#000"/>
<circle cx="42.43" cy="214.5" r="2.4" fill="#000"/>
<circle cx="48.06" cy="214.5" r="2.4" fill="#000"/>
<circle cx="53.69" cy="214.5" r="2.4" fill="#000"/>
<circle cx="59.32" cy="214.5" r="2.4" fill="#000"/>
<circle cx="64.95" cy="214.5" r="2.4" fill="#000"/>
<circle cx="70.57" cy="214.5" r="2.4" fill="#000"/>
<circle cx="76.2" cy="214.5" r="2.4" fill="#000"/>
<circle cx="81.83" cy="214.5" r="2.4" fill="#000"/>
<circle cx="87.46" cy="214.5" r="2.4" fill="#000"/>
<circle cx="93.09" cy="214.5" r="2.4" fill="#000"/>
<circle cx="98.71" cy="214.5" r="2.4" fill="#000"/>
<circle cx="104.34" cy="214.5" r="2.4" fill="#000"/>
<circle cx="109.97" cy="214.5" r="1.8" fill="#fff" stroke="#1a1a1a" stroke-width="0.95"/>
<circle cx="115.6" cy="214.5" r="2.4" fill="#000"/>
<circle cx="121.23" cy="214.5" r="2.4" fill="#000"/>
<circle cx="126.85" cy="214.5" r="2.4" fill="#000"/>
<circle cx="132.48" cy="214.5" r="2.4" fill="#000"/>
<circle cx="138.11" cy="214.5" r="2.4" fill="#000"/>
<circle cx="143.74" cy="214.5" r="2.4" fill="#000"/>
<circle cx="149.37" cy="214.5" r="2.4" fill="#000"/>
<circle cx="154.99" cy="214.5" r="2.4" fill="#000"/>
<circle cx="160.62" cy="214.5" r="2.4" fill="#000"/>
<circle cx="166.25" cy="214.5" r="2.4" fill="#000"/>
<circle cx="171.88" cy="214.5" r="2.4" fill="#000"/>
<circle cx="177.51" cy="214.5" r="2.4" fill="#000"/>
<circle cx="183.13" cy="214.5" r="2.4" fill="#000"/>
<circle cx="188.76" cy="214.5" r="2.4" fill="#000"/>
<circle cx="194.39" cy="214.5" r="2.4" fill="#000"/>
<circle cx="200.02" cy="214.5" r="2.4" fill="#000"/>
<circle cx="205.65" cy="214.5" r="2.4" fill="#000"/>
<rect x="209.07" y="212.30" width="4.4" height="4.4" fill="#000"/>
<rect x="214.70" y="212.30" width="4.4" height="4.4" fill="#000"/>
<line x1="21.35" y1="222.9" x2="219.50" y2="222.9" stroke="#222" stroke-width="0.9"/>
<circle cx="25.55" cy="222.9" r="2.4" fill="#000"/>
<circle cx="31.18" cy="222.9" r="2.4" fill="#000"/>
<circle cx="36.81" cy="222.9" r="2.4" fill="#000"/>
<circle cx="42.43" cy="222.9" r="2.4" fill="#000"/>
<circle cx="48.06" cy="222.9" r="2.4" fill="#000"/>
<circle cx="53.69" cy="222.9" r="2.4" fill="#000"/>
<circle cx="59.32" cy="222.9" r="2.4" fill="#000"/>
<circle cx="64.95" cy="222.9" r="2.4" fill="#000"/>
<circle cx="70.57" cy="222.9" r="2.4" fill="#000"/>
<circle cx="76.2" cy="222.9" r="2.4" fill="#000"/>
<circle cx="81.83" cy="222.9" r="2.4" fill="#000"/>
<circle cx="87.46" cy="222.9" r="2.4" fill="#000"/>
<circle cx="93.09" cy="222.9" r="2.4" fill="#000"/>
<circle cx="98.71" cy="222.9" r="2.4" fill="#000"/>
<circle cx="104.34" cy="222.9" r="2.4" fill="#000"/>
<circle cx="109.97" cy="222.9" r="2.4" fill="#000"/>
<circle cx="115.6" cy="222.9" r="2.4" fill="#000"/>
<circle cx="121.23" cy="222.9" r="2.4" fill="#000"/>
<circle cx="126.85" cy="222.9" r="2.4" fill="#000"/>
<circle cx="132.48" cy="222.9" r="2.4" fill="#000"/>
<circle cx="138.11" cy="222.9" r="2.4" fill="#000"/>
<circle cx="143.74" cy="222.9" r="2.4" fill="#000"/>
<circle cx="149.37" cy="222.9" r="2.4" fill="#000"/>
<circle cx="154.99" cy="222.9" r="2.4" fill="#000"/>
<circle cx="160.62" cy="222.9" r="2.4" fill="#000"/>
<circle cx="166.25" cy="222.9" r="2.4" fill="#000"/>
<circle cx="171.88" cy="222.9" r="2.4" fill="#000"/>
<circle cx="177.51" cy="222.9" r="2.4" fill="#000"/>
<circle cx="183.13" cy="222.9" r="2.4" fill="#000"/>
<circle cx="188.76" cy="222.9" r="2.4" fill="#000"/>
<circle cx="194.39" cy="222.9" r="2.4" fill="#000"/>
<circle cx="200.02" cy="222.9" r="2.4" fill="#000"/>
<circle cx="205.65" cy="222.9" r="2.4" fill="#000"/>
<rect x="209.07" y="220.70" width="4.4" height="4.4" fill="#000"/>
<rect x="214.70" y="220.70" width="4.4" height="4.4" fill="#000"/>
<line x1="21.35" y1="231.3" x2="219.50" y2="231.3" stroke="#222" stroke-width="0.9"/>
<circle cx="25.55" cy="231.3" r="2.4" fill="#000"/>
<circle cx="31.18" cy="231.3" r="2.4" fill="#000"/>
<circle cx="36.81" cy="231.3" r="2.4" fill="#000"/>
<circle cx="42.43" cy="231.3" r="2.4" fill="#000"/>
<circle cx="48.06" cy="231.3" r="2.4" fill="#000"/>
<circle cx="53.69" cy="231.3" r="2.4" fill="#000"/>
<circle cx="59.32" cy="231.3" r="2.4" fill="#000"/>
<circle cx="64.95" cy="231.3" r="2.4" fill="#000"/>
<circle cx="70.57" cy="231.3" r="2.4" fill="#000"/>
<circle cx="76.2" cy="231.3" r="2.4" fill="#000"/>
<circle cx="81.83" cy="231.3" r="2.4" fill="#000"/>
<circle cx="87.46" cy="231.3" r="2.4" fill="#000"/>
<circle cx="93.09" cy="231.3" r="2.4" fill="#000"/>
<circle cx="98.71" cy="231.3" r="2.4" fill="#000"/>
<circle cx="104.34" cy="231.3" r="2.4" fill="#000"/>
<circle cx="109.97" cy="231.3" r="2.4" fill="#000"/>
<circle cx="115.6" cy="231.3" r="2.4" fill="#000"/>
<circle cx="121.23" cy="231.3" r="2.4" fill="#000"/>
<circle cx="126.85" cy="231.3" r="2.4" fill="#000"/>
<circle cx="132.48" cy="231.3" r="2.4" fill="#000"/>
<circle cx="138.11" cy="231.3" r="2.4" fill="#000"/>
<circle cx="143.74" cy="231.3" r="2.4" fill="#000"/>
<circle cx="149.37" cy="231.3" r="2.4" fill="#000"/>
<circle cx="154.99" cy="231.3" r="2.4" fill="#000"/>
<circle cx="160.62" cy="231.3" r="2.4" fill="#000"/>
<circle cx="166.25" cy="231.3" r="2.4" fill="#000"/>
<circle cx="171.88" cy="231.3" r="2.4" fill="#000"/>
<circle cx="177.51" cy="231.3" r="2.4" fill="#000"/>
<circle cx="183.13" cy="231.3" r="2.4" fill="#000"/>
<circle cx="188.76" cy="231.3" r="2.4" fill="#000"/>
<circle cx="194.39" cy="231.3" r="2.4" fill="#000"/>
<circle cx="200.02" cy="231.3" r="2.4" fill="#000"/>
<circle cx="205.65" cy="231.3" r="2.4" fill="#000"/>
<rect x="209.07" y="229.10" width="4.4" height="4.4" fill="#000"/>
<rect x="214.70" y="229.10" width="4.4" height="4.4" fill="#000"/>
<line x1="21.35" y1="239.7" x2="219.50" y2="239.7" stroke="#222" stroke-width="0.9"/>
<circle cx="25.55" cy="239.7" r="2.4" fill="#000"/>
<circle cx="31.18" cy="239.7" r="2.4" fill="#000"/>
<circle cx="36.81" cy="239.7" r="2.4" fill="#000"/>
<circle cx="42.43" cy="239.7" r="2.4" fill="#000"/>
<circle cx="48.06" cy="239.7" r="2.4" fill="#000"/>
<circle cx="53.69" cy="239.7" r="2.4" fill="#000"/>
<circle cx="59.32" cy="239.7" r="2.4" fill="#000"/>
<circle cx="64.95" cy="239.7" r="2.4" fill="#000"/>
<circle cx="70.57" cy="239.7" r="2.4" fill="#000"/>
<circle cx="76.2" cy="239.7" r="2.4" fill="#000"/>
<circle cx="81.83" cy="239.7" r="2.4" fill="#000"/>
<circle cx="87.46" cy="239.7" r="2.4" fill="#000"/>
<circle cx="93.09" cy="239.7" r="2.4" fill="#000"/>
<circle cx="98.71" cy="239.7" r="2.4" fill="#000"/>
<circle cx="104.34" cy="239.7" r="2.4" fill="#000"/>
<circle cx="109.97" cy="239.7" r="2.4" fill="#000"/>
<circle cx="115.6" cy="239.7" r="2.4" fill="#000"/>
<circle cx="121.23" cy="239.7" r="2.4" fill="#000"/>
<circle cx="126.85" cy="239.7" r="2.4" fill="#000"/>
<circle cx="132.48" cy="239.7" r="2.4" fill="#000"/>
<circle cx="138.11" cy="239.7" r="2.4" fill="#000"/>
<circle cx="143.74" cy="239.7" r="2.4" fill="#000"/>
<circle cx="149.37" cy="239.7" r="2.4" fill="#000"/>
<circle cx="154.99" cy="239.7" r="2.4" fill="#000"/>
<circle cx="160.62" cy="239.7" r="2.4" fill="#000"/>
<circle cx="166.25" cy="239.7" r="2.4" fill="#000"/>
<circle cx="171.88" cy="239.7" r="2.4" fill="#000"/>
<circle cx="177.51" cy="239.7" r="2.4" fill="#000"/>
<circle cx="183.13" cy="239.7" r="2.4" fill="#000"/>
<circle cx="188.76" cy="239.7" r="2.4" fill="#000"/>
<circle cx="194.39" cy="239.7" r="2.4" fill="#000"/>
<circle cx="200.02" cy="239.7" r="2.4" fill="#000"/>
<circle cx="205.65" cy="239.7" r="2.4" fill="#000"/>
<rect x="209.07" y="237.50" width="4.4" height="4.4" fill="#000"/>
<rect x="214.70" y="237.50" width="4.4" height="4.4" fill="#000"/>
<line x1="21.35" y1="248.1" x2="219.50" y2="248.1" stroke="#222" stroke-width="0.9"/>
<circle cx="25.55" cy="248.1" r="2.4" fill="#000"/>
<circle cx="31.18" cy="248.1" r="2.4" fill="#000"/>
<circle cx="36.81" cy="248.1" r="2.4" fill="#000"/>
<circle cx="42.43" cy="248.1" r="2.4" fill="#000"/>
<circle cx="48.06" cy="248.1" r="2.4" fill="#000"/>
<circle cx="53.69" cy="248.1" r="2.4" fill="#000"/>
<circle cx="59.32" cy="248.1" r="2.4" fill="#000"/>
<circle cx="64.95" cy="248.1" r="2.4" fill="#000"/>
<circle cx="70.57" cy="248.1" r="2.4" fill="#000"/>
<circle cx="76.2" cy="248.1" r="2.4" fill="#000"/>
<circle cx="81.83" cy="248.1" r="2.4" fill="#000"/>
<circle cx="87.46" cy="248.1" r="2.4" fill="#000"/>
<circle cx="93.09" cy="248.1" r="2.4" fill="#000"/>
<circle cx="98.71" cy="248.1" r="2.4" fill="#000"/>
<circle cx="104.34" cy="248.1" r="2.4" fill="#000"/>
<circle cx="109.97" cy="248.1" r="2.4" fill="#000"/>
<circle cx="115.6" cy="248.1" r="2.4" fill="#000"/>
<circle cx="121.23" cy="248.1" r="2.4" fill="#000"/>
<circle cx="126.85" cy="248.1" r="2.4" fill="#000"/>
<circle cx="132.48" cy="248.1" r="2.4" fill="#000"/>
<circle cx="138.11" cy="248.1" r="2.4" fill="#000"/>
<circle cx="143.74" cy="248.1" r="2.4" fill="#000"/>
<circle cx="149.37" cy="248.1" r="2.4" fill="#000"/>
<circle cx="154.99" cy="248.1" r="2.4" fill="#000"/>
<circle cx="160.62" cy="248.1" r="2.4" fill="#000"/>
<circle cx="166.25" cy="248.1" r="2.4" fill="#000"/>
<circle cx="171.88" cy="248.1" r="2.4" fill="#000"/>
<circle cx="177.51" cy="248.1" r="2.4" fill="#000"/>
<circle cx="183.13" cy="248.1" r="2.4" fill="#000"/>
<circle cx="188.76" cy="248.1" r="2.4" fill="#000"/>
<circle cx="194.39" cy="248.1" r="2.4" fill="#000"/>
<circle cx="200.02" cy="248.1" r="2.4" fill="#000"/>
<circle cx="205.65" cy="248.1" r="2.4" fill="#000"/>
<rect x="209.07" y="245.90" width="4.4" height="4.4" fill="#000"/>
<rect x="214.70" y="245.90" width="4.4" height="4.4" fill="#000"/>
<line x1="17.7" y1="263.5" x2="17.7" y2="343.6" stroke="#444" stroke-width="1.4"/>
<text transform="translate(10.5,301.1) rotate(-90) scale(0.905,1)" text-anchor="middle" font-family='"Liberation Serif", serif' font-size="13" fill="#111">Bal 117</text>
<line x1="20.15" y1="264.9" x2="218.30" y2="264.9" stroke="#222" stroke-width="0.9"/>
<circle cx="24.35" cy="264.9" r="2.4" fill="#000"/>
<circle cx="29.98" cy="264.9" r="2.4" fill="#000"/>
<circle cx="35.61" cy="264.9" r="2.4" fill="#000"/>
<circle cx="41.23" cy="264.9" r="2.4" fill="#000"/>
<circle cx="46.86" cy="264.9" r="2.4" fill="#000"/>
<circle cx="52.49" cy="264.9" r="2.4" fill="#000"/>
<circle cx="58.12" cy="264.9" r="2.4" fill="#000"/>
<circle cx="63.75" cy="264.9" r="2.4" fill="#000"/>
<circle cx="69.37" cy="264.9" r="2.4" fill="#000"/>
<circle cx="75.0" cy="264.9" r="2.4" fill="#000"/>
<circle cx="80.63" cy="264.9" r="2.4" fill="#000"/>
<circle cx="86.26" cy="264.9" r="2.4" fill="#000"/>
<circle cx="91.89" cy="264.9" r="2.4" fill="#000"/>
<circle cx="97.51" cy="264.9" r="2.4" fill="#000"/>
<circle cx="103.14" cy="264.9" r="2.4" fill="#000"/>
<circle cx="108.77" cy="264.9" r="2.4" fill="#000"/>
<circle cx="114.4" cy="264.9" r="2.4" fill="#000"/>
<circle cx="120.03" cy="264.9" r="2.4" fill="#000"/>
<circle cx="125.65" cy="264.9" r="2.4" fill="#000"/>
<circle cx="131.28" cy="264.9" r="2.4" fill="#000"/>
<circle cx="136.91" cy="264.9" r="2.4" fill="#000"/>
<circle cx="142.54" cy="264.9" r="2.4" fill="#000"/>
<circle cx="148.17" cy="264.9" r="1.8" fill="#fff" stroke="#1a1a1a" stroke-width="0.95"/>
<circle cx="153.79" cy="264.9" r="2.4" fill="#000"/>
<circle cx="159.42" cy="264.9" r="2.4" fill="#000"/>
<circle cx="165.05" cy="264.9" r="2.4" fill="#000"/>
<circle cx="170.68" cy="264.9" r="2.4" fill="#000"/>
<circle cx="176.31" cy="264.9" r="2.4" fill="#000"/>
<circle cx="181.93" cy="264.9" r="2.4" fill="#000"/>
<circle cx="187.56" cy="264.9" r="2.4" fill="#000"/>
<circle cx="193.19" cy="264.9" r="2.4" fill="#000"/>
<circle cx="198.82" cy="264.9" r="2.4" fill="#000"/>
<circle cx="204.45" cy="264.9" r="2.4" fill="#000"/>
<rect x="207.87" y="262.70" width="4.4" height="4.4" fill="#000"/>
<rect x="213.50" y="262.70" width="4.4" height="4.4" fill="#000"/>
<line x1="20.15" y1="273.28" x2="218.30" y2="273.28" stroke="#222" stroke-width="0.9"/>
<circle cx="24.35" cy="273.28" r="2.4" fill="#000"/>
<circle cx="29.98" cy="273.28" r="2.4" fill="#000"/>
<circle cx="35.61" cy="273.28" r="2.4" fill="#000"/>
<circle cx="41.23" cy="273.28" r="2.4" fill="#000"/>
<circle cx="46.86" cy="273.28" r="2.4" fill="#000"/>
<circle cx="52.49" cy="273.28" r="2.4" fill="#000"/>
<circle cx="58.12" cy="273.28" r="2.4" fill="#000"/>
<circle cx="63.75" cy="273.28" r="1.8" fill="#fff" stroke="#1a1a1a" stroke-width="0.95"/>
<circle cx="69.37" cy="273.28" r="2.4" fill="#000"/>
<circle cx="75.0" cy="273.28" r="2.4" fill="#000"/>
<circle cx="80.63" cy="273.28" r="2.4" fill="#000"/>
<circle cx="86.26" cy="273.28" r="2.4" fill="#000"/>
<circle cx="91.89" cy="273.28" r="2.4" fill="#000"/>
<circle cx="97.51" cy="273.28" r="2.4" fill="#000"/>
<circle cx="103.14" cy="273.28" r="2.4" fill="#000"/>
<circle cx="108.77" cy="273.28" r="2.4" fill="#000"/>
<circle cx="114.4" cy="273.28" r="2.4" fill="#000"/>
<circle cx="120.03" cy="273.28" r="2.4" fill="#000"/>
<circle cx="125.65" cy="273.28" r="1.8" fill="#fff" stroke="#1a1a1a" stroke-width="0.95"/>
<circle cx="131.28" cy="273.28" r="2.4" fill="#000"/>
<circle cx="136.91" cy="273.28" r="2.4" fill="#000"/>
<circle cx="142.54" cy="273.28" r="2.4" fill="#000"/>
<circle cx="148.17" cy="273.28" r="2.4" fill="#000"/>
<circle cx="153.79" cy="273.28" r="2.4" fill="#000"/>
<circle cx="159.42" cy="273.28" r="2.4" fill="#000"/>
<circle cx="165.05" cy="273.28" r="2.4" fill="#000"/>
<circle cx="170.68" cy="273.28" r="2.4" fill="#000"/>
<circle cx="176.31" cy="273.28" r="2.4" fill="#000"/>
<circle cx="181.93" cy="273.28" r="2.4" fill="#000"/>
<circle cx="187.56" cy="273.28" r="2.4" fill="#000"/>
<circle cx="193.19" cy="273.28" r="2.4" fill="#000"/>
<circle cx="198.82" cy="273.28" r="2.4" fill="#000"/>
<circle cx="204.45" cy="273.28" r="2.4" fill="#000"/>
<rect x="207.87" y="271.08" width="4.4" height="4.4" fill="#000"/>
<rect x="213.90" y="271.48" width="3.6" height="3.6" fill="#fff" stroke="#111" stroke-width="1"/>
<line x1="20.15" y1="281.66" x2="218.30" y2="281.66" stroke="#222" stroke-width="0.9"/>
<circle cx="24.35" cy="281.66" r="2.4" fill="#000"/>
<circle cx="29.98" cy="281.66" r="2.4" fill="#000"/>
<circle cx="35.61" cy="281.66" r="2.4" fill="#000"/>
<circle cx="41.23" cy="281.66" r="2.4" fill="#000"/>
<circle cx="46.86" cy="281.66" r="2.4" fill="#000"/>
<circle cx="52.49" cy="281.66" r="1.8" fill="#fff" stroke="#1a1a1a" stroke-width="0.95"/>
<circle cx="58.12" cy="281.66" r="2.4" fill="#000"/>
<circle cx="63.75" cy="281.66" r="2.4" fill="#000"/>
<circle cx="69.37" cy="281.66" r="1.8" fill="#fff" stroke="#1a1a1a" stroke-width="0.95"/>
<circle cx="75.0" cy="281.66" r="2.4" fill="#000"/>
<circle cx="80.63" cy="281.66" r="2.4" fill="#000"/>
<circle cx="86.26" cy="281.66" r="2.4" fill="#000"/>
<circle cx="91.89" cy="281.66" r="2.4" fill="#000"/>
<circle cx="97.51" cy="281.66" r="2.4" fill="#000"/>
<circle cx="103.14" cy="281.66" r="2.4" fill="#000"/>
<circle cx="108.77" cy="281.66" r="2.4" fill="#000"/>
<circle cx="114.4" cy="281.66" r="2.4" fill="#000"/>
<circle cx="120.03" cy="281.66" r="2.4" fill="#000"/>
<circle cx="125.65" cy="281.66" r="1.8" fill="#fff" stroke="#1a1a1a" stroke-width="0.95"/>
<circle cx="131.28" cy="281.66" r="2.4" fill="#000"/>
<circle cx="136.91" cy="281.66" r="2.4" fill="#000"/>
<circle cx="142.54" cy="281.66" r="2.4" fill="#000"/>
<circle cx="148.17" cy="281.66" r="1.8" fill="#fff" stroke="#1a1a1a" stroke-width="0.95"/>
<circle cx="153.79" cy="281.66" r="2.4" fill="#000"/>
<circle cx="159.42" cy="281.66" r="2.4" fill="#000"/>
<circle cx="165.05" cy="281.66" r="2.4" fill="#000"/>
<circle cx="170.68" cy="281.66" r="2.4" fill="#000"/>
<circle cx="176.31" cy="281.66" r="2.4" fill="#000"/>
<circle cx="181.93" cy="281.66" r="2.4" fill="#000"/>
<circle cx="187.56" cy="281.66" r="2.4" fill="#000"/>
<circle cx="193.19" cy="281.66" r="2.4" fill="#000"/>
<circle cx="198.82" cy="281.66" r="1.8" fill="#fff" stroke="#1a1a1a" stroke-width="0.95"/>
<circle cx="204.45" cy="281.66" r="2.4" fill="#000"/>
<rect x="207.87" y="279.46" width="4.4" height="4.4" fill="#000"/>
<rect x="213.50" y="279.46" width="4.4" height="4.4" fill="#000"/>
<line x1="20.15" y1="290.04" x2="218.30" y2="290.04" stroke="#222" stroke-width="0.9"/>
<circle cx="24.35" cy="290.04" r="1.8" fill="#fff" stroke="#1a1a1a" stroke-width="0.95"/>
<circle cx="29.98" cy="290.04" r="2.4" fill="#000"/>
<circle cx="35.61" cy="290.04" r="2.4" fill="#000"/>
<circle cx="41.23" cy="290.04" r="2.4" fill="#000"/>
<circle cx="46.86" cy="290.04" r="2.4" fill="#000"/>
<circle cx="52.49" cy="290.04" r="2.4" fill="#000"/>
<circle cx="58.12" cy="290.04" r="2.4" fill="#000"/>
<circle cx="63.75" cy="290.04" r="2.4" fill="#000"/>
<circle cx="69.37" cy="290.04" r="2.4" fill="#000"/>
<circle cx="75.0" cy="290.04" r="2.4" fill="#000"/>
<circle cx="80.63" cy="290.04" r="1.8" fill="#fff" stroke="#1a1a1a" stroke-width="0.95"/>
<circle cx="86.26" cy="290.04" r="2.4" fill="#000"/>
<circle cx="91.89" cy="290.04" r="2.4" fill="#000"/>
<circle cx="97.51" cy="290.04" r="2.4" fill="#000"/>
<circle cx="103.14" cy="290.04" r="2.4" fill="#000"/>
<circle cx="108.77" cy="290.04" r="2.4" fill="#000"/>
<circle cx="114.4" cy="290.04" r="2.4" fill="#000"/>
<circle cx="120.03" cy="290.04" r="2.4" fill="#000"/>
<circle cx="125.65" cy="290.04" r="2.4" fill="#000"/>
<circle cx="131.28" cy="290.04" r="2.4" fill="#000"/>
<circle cx="136.91" cy="290.04" r="2.4" fill="#000"/>
<circle cx="142.54" cy="290.04" r="2.4" fill="#000"/>
<circle cx="148.17" cy="290.04" r="1.8" fill="#fff" stroke="#1a1a1a" stroke-width="0.95"/>
<circle cx="153.79" cy="290.04" r="1.8" fill="#fff" stroke="#1a1a1a" stroke-width="0.95"/>
<circle cx="159.42" cy="290.04" r="1.8" fill="#fff" stroke="#1a1a1a" stroke-width="0.95"/>
<circle cx="165.05" cy="290.04" r="2.4" fill="#000"/>
<circle cx="170.68" cy="290.04" r="2.4" fill="#000"/>
<circle cx="176.31" cy="290.04" r="2.4" fill="#000"/>
<circle cx="181.93" cy="290.04" r="2.4" fill="#000"/>
<circle cx="187.56" cy="290.04" r="1.8" fill="#fff" stroke="#1a1a1a" stroke-width="0.95"/>
<circle cx="193.19" cy="290.04" r="2.4" fill="#000"/>
<circle cx="198.82" cy="290.04" r="2.4" fill="#000"/>
<circle cx="204.45" cy="290.04" r="2.4" fill="#000"/>
<rect x="207.87" y="287.84" width="4.4" height="4.4" fill="#000"/>
<rect x="213.50" y="287.84" width="4.4" height="4.4" fill="#000"/>
<line x1="20.15" y1="298.42" x2="218.30" y2="298.42" stroke="#222" stroke-width="0.9"/>
<circle cx="24.35" cy="298.42" r="2.4" fill="#000"/>
<circle cx="29.98" cy="298.42" r="2.4" fill="#000"/>
<circle cx="35.61" cy="298.42" r="2.4" fill="#000"/>
<circle cx="41.23" cy="298.42" r="2.4" fill="#000"/>
<circle cx="46.86" cy="298.42" r="2.4" fill="#000"/>
<circle cx="52.49" cy="298.42" r="2.4" fill="#000"/>
<circle cx="58.12" cy="298.42" r="2.4" fill="#000"/>
<circle cx="63.75" cy="298.42" r="2.4" fill="#000"/>
<circle cx="69.37" cy="298.42" r="2.4" fill="#000"/>
<circle cx="75.0" cy="298.42" r="2.4" fill="#000"/>
<circle cx="80.63" cy="298.42" r="2.4" fill="#000"/>
<circle cx="86.26" cy="298.42" r="1.8" fill="#fff" stroke="#1a1a1a" stroke-width="0.95"/>
<circle cx="91.89" cy="298.42" r="2.4" fill="#000"/>
<circle cx="97.51" cy="298.42" r="2.4" fill="#000"/>
<circle cx="103.14" cy="298.42" r="2.4" fill="#000"/>
<circle cx="108.77" cy="298.42" r="2.4" fill="#000"/>
<circle cx="114.4" cy="298.42" r="2.4" fill="#000"/>
<circle cx="120.03" cy="298.42" r="2.4" fill="#000"/>
<circle cx="125.65" cy="298.42" r="2.4" fill="#000"/>
<circle cx="131.28" cy="298.42" r="2.4" fill="#000"/>
<circle cx="136.91" cy="298.42" r="2.4" fill="#000"/>
<circle cx="142.54" cy="298.42" r="2.4" fill="#000"/>
<circle cx="148.17" cy="298.42" r="1.8" fill="#fff" stroke="#1a1a1a" stroke-width="0.95"/>
<circle cx="153.79" cy="298.42" r="1.8" fill="#fff" stroke="#1a1a1a" stroke-width="0.95"/>
<circle cx="159.42" cy="298.42" r="2.4" fill="#000"/>
<circle cx="165.05" cy="298.42" r="2.4" fill="#000"/>
<circle cx="170.68" cy="298.42" r="2.4" fill="#000"/>
<circle cx="176.31" cy="298.42" r="2.4" fill="#000"/>
<circle cx="181.93" cy="298.42" r="2.4" fill="#000"/>
<circle cx="187.56" cy="298.42" r="2.4" fill="#000"/>
<circle cx="193.19" cy="298.42" r="2.4" fill="#000"/>
<circle cx="198.82" cy="298.42" r="1.8" fill="#fff" stroke="#1a1a1a" stroke-width="0.95"/>
<circle cx="204.45" cy="298.42" r="2.4" fill="#000"/>
<rect x="207.87" y="296.22" width="4.4" height="4.4" fill="#000"/>
<rect x="213.50" y="296.22" width="4.4" height="4.4" fill="#000"/>
<line x1="20.15" y1="306.8" x2="218.30" y2="306.8" stroke="#222" stroke-width="0.9"/>
<circle cx="24.35" cy="306.8" r="2.4" fill="#000"/>
<circle cx="29.98" cy="306.8" r="2.4" fill="#000"/>
<circle cx="35.61" cy="306.8" r="2.4" fill="#000"/>
<circle cx="41.23" cy="306.8" r="2.4" fill="#000"/>
<circle cx="46.86" cy="306.8" r="2.4" fill="#000"/>
<circle cx="52.49" cy="306.8" r="2.4" fill="#000"/>
<circle cx="58.12" cy="306.8" r="2.4" fill="#000"/>
<circle cx="63.75" cy="306.8" r="2.4" fill="#000"/>
<circle cx="69.37" cy="306.8" r="2.4" fill="#000"/>
<circle cx="75.0" cy="306.8" r="2.4" fill="#000"/>
<circle cx="80.63" cy="306.8" r="2.4" fill="#000"/>
<circle cx="86.26" cy="306.8" r="2.4" fill="#000"/>
<circle cx="91.89" cy="306.8" r="2.4" fill="#000"/>
<circle cx="97.51" cy="306.8" r="2.4" fill="#000"/>
<circle cx="103.14" cy="306.8" r="2.4" fill="#000"/>
<circle cx="108.77" cy="306.8" r="2.4" fill="#000"/>
<circle cx="114.4" cy="306.8" r="2.4" fill="#000"/>
<circle cx="120.03" cy="306.8" r="2.4" fill="#000"/>
<circle cx="125.65" cy="306.8" r="2.4" fill="#000"/>
<circle cx="131.28" cy="306.8" r="2.4" fill="#000"/>
<circle cx="136.91" cy="306.8" r="2.4" fill="#000"/>
<circle cx="142.54" cy="306.8" r="1.8" fill="#fff" stroke="#1a1a1a" stroke-width="0.95"/>
<circle cx="148.17" cy="306.8" r="2.4" fill="#000"/>
<circle cx="153.79" cy="306.8" r="2.4" fill="#000"/>
<circle cx="159.42" cy="306.8" r="2.4" fill="#000"/>
<circle cx="165.05" cy="306.8" r="2.4" fill="#000"/>
<circle cx="170.68" cy="306.8" r="2.4" fill="#000"/>
<circle cx="176.31" cy="306.8" r="2.4" fill="#000"/>
<circle cx="181.93" cy="306.8" r="2.4" fill="#000"/>
<circle cx="187.56" cy="306.8" r="2.4" fill="#000"/>
<circle cx="193.19" cy="306.8" r="2.4" fill="#000"/>
<circle cx="198.82" cy="306.8" r="2.4" fill="#000"/>
<circle cx="204.45" cy="306.8" r="2.4" fill="#000"/>
<rect x="208.27" y="305.00" width="3.6" height="3.6" fill="#fff" stroke="#111" stroke-width="1"/>
<rect x="213.50" y="304.60" width="4.4" height="4.4" fill="#000"/>
<line x1="20.15" y1="315.18" x2="218.30" y2="315.18" stroke="#222" stroke-width="0.9"/>
<circle cx="24.35" cy="315.18" r="2.4" fill="#000"/>
<circle cx="29.98" cy="315.18" r="2.4" fill="#000"/>
<circle cx="35.61" cy="315.18" r="2.4" fill="#000"/>
<circle cx="41.23" cy="315.18" r="2.4" fill="#000"/>
<circle cx="46.86" cy="315.18" r="2.4" fill="#000"/>
<circle cx="52.49" cy="315.18" r="2.4" fill="#000"/>
<circle cx="58.12" cy="315.18" r="2.4" fill="#000"/>
<circle cx="63.75" cy="315.18" r="2.4" fill="#000"/>
<circle cx="69.37" cy="315.18" r="2.4" fill="#000"/>
<circle cx="75.0" cy="315.18" r="2.4" fill="#000"/>
<circle cx="80.63" cy="315.18" r="2.4" fill="#000"/>
<circle cx="86.26" cy="315.18" r="2.4" fill="#000"/>
<circle cx="91.89" cy="315.18" r="2.4" fill="#000"/>
<circle cx="97.51" cy="315.18" r="2.4" fill="#000"/>
<circle cx="103.14" cy="315.18" r="2.4" fill="#000"/>
<circle cx="108.77" cy="315.18" r="2.4" fill="#000"/>
<circle cx="114.4" cy="315.18" r="2.4" fill="#000"/>
<circle cx="120.03" cy="315.18" r="2.4" fill="#000"/>
<circle cx="125.65" cy="315.18" r="2.4" fill="#000"/>
<circle cx="131.28" cy="315.18" r="2.4" fill="#000"/>
<circle cx="136.91" cy="315.18" r="2.4" fill="#000"/>
<circle cx="142.54" cy="315.18" r="2.4" fill="#000"/>
<circle cx="148.17" cy="315.18" r="1.8" fill="#fff" stroke="#1a1a1a" stroke-width="0.95"/>
<circle cx="153.79" cy="315.18" r="2.4" fill="#000"/>
<circle cx="159.42" cy="315.18" r="2.4" fill="#000"/>
<circle cx="165.05" cy="315.18" r="2.4" fill="#000"/>
<circle cx="170.68" cy="315.18" r="2.4" fill="#000"/>
<circle cx="176.31" cy="315.18" r="2.4" fill="#000"/>
<circle cx="181.93" cy="315.18" r="2.4" fill="#000"/>
<circle cx="187.56" cy="315.18" r="2.4" fill="#000"/>
<circle cx="193.19" cy="315.18" r="2.4" fill="#000"/>
<circle cx="198.82" cy="315.18" r="2.4" fill="#000"/>
<circle cx="204.45" cy="315.18" r="2.4" fill="#000"/>
<rect x="207.87" y="312.98" width="4.4" height="4.4" fill="#000"/>
<rect x="213.90" y="313.38" width="3.6" height="3.6" fill="#fff" stroke="#111" stroke-width="1"/>
<line x1="20.15" y1="323.56" x2="218.30" y2="323.56" stroke="#222" stroke-width="0.9"/>
<circle cx="24.35" cy="323.56" r="2.4" fill="#000"/>
<circle cx="29.98" cy="323.56" r="2.4" fill="#000"/>
<circle cx="35.61" cy="323.56" r="2.4" fill="#000"/>
<circle cx="41.23" cy="323.56" r="2.4" fill="#000"/>
<circle cx="46.86" cy="323.56" r="2.4" fill="#000"/>
<circle cx="52.49" cy="323.56" r="2.4" fill="#000"/>
<circle cx="58.12" cy="323.56" r="2.4" fill="#000"/>
<circle cx="63.75" cy="323.56" r="2.4" fill="#000"/>
<circle cx="69.37" cy="323.56" r="1.8" fill="#fff" stroke="#1a1a1a" stroke-width="0.95"/>
<circle cx="75.0" cy="323.56" r="2.4" fill="#000"/>
<circle cx="80.63" cy="323.56" r="2.4" fill="#000"/>
<circle cx="86.26" cy="323.56" r="2.4" fill="#000"/>
<circle cx="91.89" cy="323.56" r="2.4" fill="#000"/>
<circle cx="97.51" cy="323.56" r="2.4" fill="#000"/>
<circle cx="103.14" cy="323.56" r="2.4" fill="#000"/>
<circle cx="108.77" cy="323.56" r="2.4" fill="#000"/>
<circle cx="114.4" cy="323.56" r="2.4" fill="#000"/>
<circle cx="120.03" cy="323.56" r="2.4" fill="#000"/>
<circle cx="125.65" cy="323.56" r="2.4" fill="#000"/>
<circle cx="131.28" cy="323.56" r="1.8" fill="#fff" stroke="#1a1a1a" stroke-width="0.95"/>
<circle cx="136.91" cy="323.56" r="2.4" fill="#000"/>
<circle cx="142.54" cy="323.56" r="2.4" fill="#000"/>
<circle cx="148.17" cy="323.56" r="2.4" fill="#000"/>
<circle cx="153.79" cy="323.56" r="2.4" fill="#000"/>
<circle cx="159.42" cy="323.56" r="2.4" fill="#000"/>
<circle cx="165.05" cy="323.56" r="2.4" fill="#000"/>
<circle cx="170.68" cy="323.56" r="2.4" fill="#000"/>
<circle cx="176.31" cy="323.56" r="2.4" fill="#000"/>
<circle cx="181.93" cy="323.56" r="2.4" fill="#000"/>
<circle cx="187.56" cy="323.56" r="2.4" fill="#000"/>
<circle cx="193.19" cy="323.56" r="1.8" fill="#fff" stroke="#1a1a1a" stroke-width="0.95"/>
<circle cx="198.82" cy="323.56" r="2.4" fill="#000"/>
<circle cx="204.45" cy="323.56" r="2.4" fill="#000"/>
<rect x="207.87" y="321.36" width="4.4" height="4.4" fill="#000"/>
<rect x="213.50" y="321.36" width="4.4" height="4.4" fill="#000"/>
<line x1="20.15" y1="331.94" x2="218.30" y2="331.94" stroke="#222" stroke-width="0.9"/>
<circle cx="24.35" cy="331.94" r="2.4" fill="#000"/>
<circle cx="29.98" cy="331.94" r="2.4" fill="#000"/>
<circle cx="35.61" cy="331.94" r="2.4" fill="#000"/>
<circle cx="41.23" cy="331.94" r="2.4" fill="#000"/>
<circle cx="46.86" cy="331.94" r="2.4" fill="#000"/>
<circle cx="52.49" cy="331.94" r="2.4" fill="#000"/>
<circle cx="58.12" cy="331.94" r="2.4" fill="#000"/>
<circle cx="63.75" cy="331.94" r="2.4" fill="#000"/>
<circle cx="69.37" cy="331.94" r="2.4" fill="#000"/>
<circle cx="75.0" cy="331.94" r="2.4" fill="#000"/>
<circle cx="80.63" cy="331.94" r="2.4" fill="#000"/>
<circle cx="86.26" cy="331.94" r="2.4" fill="#000"/>
<circle cx="91.89" cy="331.94" r="2.4" fill="#000"/>
<circle cx="97.51" cy="331.94" r="2.4" fill="#000"/>
<circle cx="103.14" cy="331.94" r="2.4" fill="#000"/>
<circle cx="108.77" cy="331.94" r="2.4" fill="#000"/>
<circle cx="114.4" cy="331.94" r="2.4" fill="#000"/>
<circle cx="120.03" cy="331.94" r="2.4" fill="#000"/>
<circle cx="125.65" cy="331.94" r="2.4" fill="#000"/>
<circle cx="131.28" cy="331.94" r="2.4" fill="#000"/>
<circle cx="136.91" cy="331.94" r="2.4" fill="#000"/>
<circle cx="142.54" cy="331.94" r="2.4" fill="#000"/>
<circle cx="148.17" cy="331.94" r="2.4" fill="#000"/>
<circle cx="153.79" cy="331.94" r="1.8" fill="#fff" stroke="#1a1a1a" stroke-width="0.95"/>
<circle cx="159.42" cy="331.94" r="2.4" fill="#000"/>
<circle cx="165.05" cy="331.94" r="2.4" fill="#000"/>
<circle cx="170.68" cy="331.94" r="2.4" fill="#000"/>
<circle cx="176.31" cy="331.94" r="2.4" fill="#000"/>
<circle cx="181.93" cy="331.94" r="2.4" fill="#000"/>
<circle cx="187.56" cy="331.94" r="2.4" fill="#000"/>
<circle cx="193.19" cy="331.94" r="2.4" fill="#000"/>
<circle cx="198.82" cy="331.94" r="2.4" fill="#000"/>
<circle cx="204.45" cy="331.94" r="2.4" fill="#000"/>
<rect x="207.87" y="329.74" width="4.4" height="4.4" fill="#000"/>
<rect x="213.50" y="329.74" width="4.4" height="4.4" fill="#000"/>
<line x1="20.15" y1="340.32" x2="218.30" y2="340.32" stroke="#222" stroke-width="0.9"/>
<circle cx="24.35" cy="340.32" r="2.4" fill="#000"/>
<circle cx="29.98" cy="340.32" r="2.4" fill="#000"/>
<circle cx="35.61" cy="340.32" r="2.4" fill="#000"/>
<circle cx="41.23" cy="340.32" r="2.4" fill="#000"/>
<circle cx="46.86" cy="340.32" r="2.4" fill="#000"/>
<circle cx="52.49" cy="340.32" r="2.4" fill="#000"/>
<circle cx="58.12" cy="340.32" r="2.4" fill="#000"/>
<circle cx="63.75" cy="340.32" r="2.4" fill="#000"/>
<circle cx="69.37" cy="340.32" r="2.4" fill="#000"/>
<circle cx="75.0" cy="340.32" r="2.4" fill="#000"/>
<circle cx="80.63" cy="340.32" r="2.4" fill="#000"/>
<circle cx="86.26" cy="340.32" r="2.4" fill="#000"/>
<circle cx="91.89" cy="340.32" r="2.4" fill="#000"/>
<circle cx="97.51" cy="340.32" r="2.4" fill="#000"/>
<circle cx="103.14" cy="340.32" r="2.4" fill="#000"/>
<circle cx="108.77" cy="340.32" r="2.4" fill="#000"/>
<circle cx="114.4" cy="340.32" r="2.4" fill="#000"/>
<circle cx="120.03" cy="340.32" r="2.4" fill="#000"/>
<circle cx="125.65" cy="340.32" r="2.4" fill="#000"/>
<circle cx="131.28" cy="340.32" r="2.4" fill="#000"/>
<circle cx="136.91" cy="340.32" r="2.4" fill="#000"/>
<circle cx="142.54" cy="340.32" r="2.4" fill="#000"/>
<circle cx="148.17" cy="340.32" r="2.4" fill="#000"/>
<circle cx="153.79" cy="340.32" r="2.4" fill="#000"/>
<circle cx="159.42" cy="340.32" r="2.4" fill="#000"/>
<circle cx="165.05" cy="340.32" r="2.4" fill="#000"/>
<circle cx="170.68" cy="340.32" r="2.4" fill="#000"/>
<circle cx="176.31" cy="340.32" r="2.4" fill="#000"/>
<circle cx="181.93" cy="340.32" r="2.4" fill="#000"/>
<circle cx="187.56" cy="340.32" r="2.4" fill="#000"/>
<circle cx="193.19" cy="340.32" r="2.4" fill="#000"/>
<circle cx="198.82" cy="340.32" r="2.4" fill="#000"/>
<circle cx="204.45" cy="340.32" r="2.4" fill="#000"/>
<rect x="207.87" y="338.12" width="4.4" height="4.4" fill="#000"/>
<rect x="213.90" y="338.52" width="3.6" height="3.6" fill="#fff" stroke="#111" stroke-width="1"/>
<line x1="17.7" y1="359.9" x2="17.7" y2="440" stroke="#444" stroke-width="1.4"/>
<text transform="translate(9.6,400.0) rotate(-90) scale(1.0,1)" text-anchor="middle" font-family='"Liberation Serif", serif' font-size="12.0" fill="#111">A20</text>
<line x1="21.05" y1="361.2" x2="219.20" y2="361.2" stroke="#222" stroke-width="0.9"/>
<circle cx="25.25" cy="361.2" r="2.05" fill="#000"/>
<circle cx="30.88" cy="361.2" r="2.05" fill="#000"/>
<circle cx="36.51" cy="361.2" r="2.05" fill="#000"/>
<circle cx="42.13" cy="361.2" r="2.05" fill="#000"/>
<circle cx="47.76" cy="361.2" r="2.05" fill="#000"/>
<circle cx="53.39" cy="361.2" r="2.05" fill="#000"/>
<circle cx="59.02" cy="361.2" r="2.05" fill="#000"/>
<circle cx="64.65" cy="361.2" r="2.05" fill="#000"/>
<circle cx="70.27" cy="361.2" r="2.05" fill="#000"/>
<circle cx="75.9" cy="361.2" r="2.05" fill="#000"/>
<circle cx="81.53" cy="361.2" r="2.05" fill="#000"/>
<circle cx="87.16" cy="361.2" r="2.05" fill="#000"/>
<circle cx="92.79" cy="361.2" r="2.05" fill="#000"/>
<circle cx="98.41" cy="361.2" r="2.05" fill="#000"/>
<circle cx="104.04" cy="361.2" r="2.05" fill="#000"/>
<circle cx="109.67" cy="361.2" r="2.05" fill="#000"/>
<circle cx="115.3" cy="361.2" r="2.05" fill="#000"/>
<circle cx="120.93" cy="361.2" r="2.05" fill="#000"/>
<circle cx="126.55" cy="361.2" r="2.05" fill="#000"/>
<circle cx="132.18" cy="361.2" r="2.05" fill="#000"/>
<circle cx="137.81" cy="361.2" r="2.05" fill="#000"/>
<circle cx="143.44" cy="361.2" r="2.05" fill="#000"/>
<circle cx="149.07" cy="361.2" r="2.05" fill="#000"/>
<circle cx="154.69" cy="361.2" r="2.05" fill="#000"/>
<circle cx="160.32" cy="361.2" r="2.05" fill="#000"/>
<circle cx="165.95" cy="361.2" r="2.05" fill="#000"/>
<circle cx="171.58" cy="361.2" r="2.05" fill="#000"/>
<circle cx="177.21" cy="361.2" r="2.05" fill="#000"/>
<circle cx="182.83" cy="361.2" r="2.05" fill="#000"/>
<circle cx="188.46" cy="361.2" r="2.05" fill="#000"/>
<circle cx="194.09" cy="361.2" r="2.05" fill="#000"/>
<circle cx="199.72" cy="361.2" r="2.05" fill="#000"/>
<circle cx="205.35" cy="361.2" r="2.05" fill="#000"/>
<rect x="208.77" y="359.00" width="4.4" height="4.4" fill="#000"/>
<rect x="214.40" y="359.00" width="4.4" height="4.4" fill="#000"/>
<line x1="21.05" y1="369.64" x2="219.20" y2="369.64" stroke="#222" stroke-width="0.9"/>
<circle cx="25.25" cy="369.64" r="2.05" fill="#000"/>
<circle cx="30.88" cy="369.64" r="2.05" fill="#000"/>
<circle cx="36.51" cy="369.64" r="2.05" fill="#000"/>
<circle cx="42.13" cy="369.64" r="2.05" fill="#000"/>
<circle cx="47.76" cy="369.64" r="2.05" fill="#000"/>
<circle cx="53.39" cy="369.64" r="2.05" fill="#000"/>
<circle cx="59.02" cy="369.64" r="2.05" fill="#000"/>
<circle cx="64.65" cy="369.64" r="2.05" fill="#000"/>
<circle cx="70.27" cy="369.64" r="2.05" fill="#000"/>
<circle cx="75.9" cy="369.64" r="2.05" fill="#000"/>
<circle cx="81.53" cy="369.64" r="2.05" fill="#000"/>
<circle cx="87.16" cy="369.64" r="2.05" fill="#000"/>
<circle cx="92.79" cy="369.64" r="2.05" fill="#000"/>
<circle cx="98.41" cy="369.64" r="2.05" fill="#000"/>
<circle cx="104.04" cy="369.64" r="2.05" fill="#000"/>
<circle cx="109.67" cy="369.64" r="2.05" fill="#000"/>
<circle cx="115.3" cy="369.64" r="2.05" fill="#000"/>
<circle cx="120.93" cy="369.64" r="2.05" fill="#000"/>
<circle cx="126.55" cy="369.64" r="2.05" fill="#000"/>
<circle cx="132.18" cy="369.64" r="2.05" fill="#000"/>
<circle cx="137.81" cy="369.64" r="2.05" fill="#000"/>
<circle cx="143.44" cy="369.64" r="2.05" fill="#000"/>
<circle cx="149.07" cy="369.64" r="1.8" fill="#fff" stroke="#1a1a1a" stroke-width="0.95"/>
<circle cx="154.69" cy="369.64" r="1.8" fill="#fff" stroke="#1a1a1a" stroke-width="0.95"/>
<circle cx="160.32" cy="369.64" r="2.05" fill="#000"/>
<circle cx="165.95" cy="369.64" r="2.05" fill="#000"/>
<circle cx="171.58" cy="369.64" r="2.05" fill="#000"/>
<circle cx="177.21" cy="369.64" r="2.05" fill="#000"/>
<circle cx="182.83" cy="369.64" r="2.05" fill="#000"/>
<circle cx="188.46" cy="369.64" r="2.05" fill="#000"/>
<circle cx="194.09" cy="369.64" r="2.05" fill="#000"/>
<circle cx="199.72" cy="369.64" r="2.05" fill="#000"/>
<circle cx="205.35" cy="369.64" r="2.05" fill="#000"/>
<rect x="208.77" y="367.44" width="4.4" height="4.4" fill="#000"/>
<rect x="214.40" y="367.44" width="4.4" height="4.4" fill="#000"/>
<line x1="21.05" y1="378.08" x2="219.20" y2="378.08" stroke="#222" stroke-width="0.9"/>
<circle cx="25.25" cy="378.08" r="2.05" fill="#000"/>
<circle cx="30.88" cy="378.08" r="2.05" fill="#000"/>
<circle cx="36.51" cy="378.08" r="2.05" fill="#000"/>
<circle cx="42.13" cy="378.08" r="2.05" fill="#000"/>
<circle cx="47.76" cy="378.08" r="2.05" fill="#000"/>
<circle cx="53.39" cy="378.08" r="2.05" fill="#000"/>
<circle cx="59.02" cy="378.08" r="2.05" fill="#000"/>
<circle cx="64.65" cy="378.08" r="2.05" fill="#000"/>
<circle cx="70.27" cy="378.08" r="2.05" fill="#000"/>
<circle cx="75.9" cy="378.08" r="2.05" fill="#000"/>
<circle cx="81.53" cy="378.08" r="2.05" fill="#000"/>
<circle cx="87.16" cy="378.08" r="2.05" fill="#000"/>
<circle cx="92.79" cy="378.08" r="2.05" fill="#000"/>
<circle cx="98.41" cy="378.08" r="2.05" fill="#000"/>
<circle cx="104.04" cy="378.08" r="2.05" fill="#000"/>
<circle cx="109.67" cy="378.08" r="2.05" fill="#000"/>
<circle cx="115.3" cy="378.08" r="2.05" fill="#000"/>
<circle cx="120.93" cy="378.08" r="2.05" fill="#000"/>
<circle cx="126.55" cy="378.08" r="2.05" fill="#000"/>
<circle cx="132.18" cy="378.08" r="2.05" fill="#000"/>
<circle cx="137.81" cy="378.08" r="2.05" fill="#000"/>
<circle cx="143.44" cy="378.08" r="2.05" fill="#000"/>
<circle cx="149.07" cy="378.08" r="2.05" fill="#000"/>
<circle cx="154.69" cy="378.08" r="2.05" fill="#000"/>
<circle cx="160.32" cy="378.08" r="2.05" fill="#000"/>
<circle cx="165.95" cy="378.08" r="2.05" fill="#000"/>
<circle cx="171.58" cy="378.08" r="2.05" fill="#000"/>
<circle cx="177.21" cy="378.08" r="2.05" fill="#000"/>
<circle cx="182.83" cy="378.08" r="2.05" fill="#000"/>
<circle cx="188.46" cy="378.08" r="2.05" fill="#000"/>
<circle cx="194.09" cy="378.08" r="2.05" fill="#000"/>
<circle cx="199.72" cy="378.08" r="2.05" fill="#000"/>
<circle cx="205.35" cy="378.08" r="2.05" fill="#000"/>
<rect x="208.77" y="375.88" width="4.4" height="4.4" fill="#000"/>
<circle cx="216.6" cy="378.08" r="1.7" fill="#fff" stroke="#111" stroke-width="1.1"/>
<line x1="21.05" y1="386.52" x2="219.20" y2="386.52" stroke="#222" stroke-width="0.9"/>
<circle cx="25.25" cy="386.52" r="2.05" fill="#000"/>
<circle cx="30.88" cy="386.52" r="2.05" fill="#000"/>
<circle cx="36.51" cy="386.52" r="2.05" fill="#000"/>
<circle cx="42.13" cy="386.52" r="2.05" fill="#000"/>
<circle cx="47.76" cy="386.52" r="2.05" fill="#000"/>
<circle cx="53.39" cy="386.52" r="2.05" fill="#000"/>
<circle cx="59.02" cy="386.52" r="2.05" fill="#000"/>
<circle cx="64.65" cy="386.52" r="2.05" fill="#000"/>
<circle cx="70.27" cy="386.52" r="2.05" fill="#000"/>
<circle cx="75.9" cy="386.52" r="2.05" fill="#000"/>
<circle cx="81.53" cy="386.52" r="2.05" fill="#000"/>
<circle cx="87.16" cy="386.52" r="2.05" fill="#000"/>
<circle cx="92.79" cy="386.52" r="2.05" fill="#000"/>
<circle cx="98.41" cy="386.52" r="2.05" fill="#000"/>
<circle cx="104.04" cy="386.52" r="2.05" fill="#000"/>
<circle cx="109.67" cy="386.52" r="2.05" fill="#000"/>
<circle cx="115.3" cy="386.52" r="2.05" fill="#000"/>
<circle cx="120.93" cy="386.52" r="2.05" fill="#000"/>
<circle cx="126.55" cy="386.52" r="2.05" fill="#000"/>
<circle cx="132.18" cy="386.52" r="2.05" fill="#000"/>
<circle cx="137.81" cy="386.52" r="2.05" fill="#000"/>
<circle cx="143.44" cy="386.52" r="2.05" fill="#000"/>
<circle cx="149.07" cy="386.52" r="2.05" fill="#000"/>
<circle cx="154.69" cy="386.52" r="2.05" fill="#000"/>
<circle cx="160.32" cy="386.52" r="2.05" fill="#000"/>
<circle cx="165.95" cy="386.52" r="2.05" fill="#000"/>
<circle cx="171.58" cy="386.52" r="2.05" fill="#000"/>
<circle cx="177.21" cy="386.52" r="2.05" fill="#000"/>
<circle cx="182.83" cy="386.52" r="2.05" fill="#000"/>
<circle cx="188.46" cy="386.52" r="2.05" fill="#000"/>
<circle cx="194.09" cy="386.52" r="2.05" fill="#000"/>
<circle cx="199.72" cy="386.52" r="2.05" fill="#000"/>
<circle cx="205.35" cy="386.52" r="2.05" fill="#000"/>
<rect x="208.77" y="384.32" width="4.4" height="4.4" fill="#000"/>
<rect x="214.40" y="384.32" width="4.4" height="4.4" fill="#000"/>
<line x1="21.05" y1="394.96" x2="219.20" y2="394.96" stroke="#222" stroke-width="0.9"/>
<circle cx="25.25" cy="394.96" r="2.05" fill="#000"/>
<circle cx="30.88" cy="394.96" r="2.05" fill="#000"/>
<circle cx="36.51" cy="394.96" r="2.05" fill="#000"/>
<circle cx="42.13" cy="394.96" r="2.05" fill="#000"/>
<circle cx="47.76" cy="394.96" r="2.05" fill="#000"/>
<circle cx="53.39" cy="394.96" r="2.05" fill="#000"/>
<circle cx="59.02" cy="394.96" r="2.05" fill="#000"/>
<circle cx="64.65" cy="394.96" r="2.05" fill="#000"/>
<circle cx="70.27" cy="394.96" r="2.05" fill="#000"/>
<circle cx="75.9" cy="394.96" r="2.05" fill="#000"/>
<circle cx="81.53" cy="394.96" r="2.05" fill="#000"/>
<circle cx="87.16" cy="394.96" r="2.05" fill="#000"/>
<circle cx="92.79" cy="394.96" r="2.05" fill="#000"/>
<circle cx="98.41" cy="394.96" r="2.05" fill="#000"/>
<circle cx="104.04" cy="394.96" r="2.05" fill="#000"/>
<circle cx="109.67" cy="394.96" r="2.05" fill="#000"/>
<circle cx="115.3" cy="394.96" r="2.05" fill="#000"/>
<circle cx="120.93" cy="394.96" r="1.8" fill="#fff" stroke="#1a1a1a" stroke-width="0.95"/>
<circle cx="126.55" cy="394.96" r="2.05" fill="#000"/>
<circle cx="132.18" cy="394.96" r="2.05" fill="#000"/>
<circle cx="137.81" cy="394.96" r="2.05" fill="#000"/>
<circle cx="143.44" cy="394.96" r="2.05" fill="#000"/>
<circle cx="149.07" cy="394.96" r="2.05" fill="#000"/>
<circle cx="154.69" cy="394.96" r="2.05" fill="#000"/>
<circle cx="160.32" cy="394.96" r="2.05" fill="#000"/>
<circle cx="165.95" cy="394.96" r="2.05" fill="#000"/>
<circle cx="171.58" cy="394.96" r="2.05" fill="#000"/>
<circle cx="177.21" cy="394.96" r="2.05" fill="#000"/>
<circle cx="182.83" cy="394.96" r="2.05" fill="#000"/>
<circle cx="188.46" cy="394.96" r="2.05" fill="#000"/>
<circle cx="194.09" cy="394.96" r="2.05" fill="#000"/>
<circle cx="199.72" cy="394.96" r="2.05" fill="#000"/>
<circle cx="205.35" cy="394.96" r="2.05" fill="#000"/>
<rect x="208.77" y="392.76" width="4.4" height="4.4" fill="#000"/>
<rect x="214.40" y="392.76" width="4.4" height="4.4" fill="#000"/>
<line x1="21.05" y1="403.4" x2="219.20" y2="403.4" stroke="#222" stroke-width="0.9"/>
<circle cx="25.25" cy="403.4" r="2.05" fill="#000"/>
<circle cx="30.88" cy="403.4" r="2.05" fill="#000"/>
<circle cx="36.51" cy="403.4" r="2.05" fill="#000"/>
<circle cx="42.13" cy="403.4" r="2.05" fill="#000"/>
<circle cx="47.76" cy="403.4" r="2.05" fill="#000"/>
<circle cx="53.39" cy="403.4" r="2.05" fill="#000"/>
<circle cx="59.02" cy="403.4" r="2.05" fill="#000"/>
<circle cx="64.65" cy="403.4" r="2.05" fill="#000"/>
<circle cx="70.27" cy="403.4" r="2.05" fill="#000"/>
<circle cx="75.9" cy="403.4" r="2.05" fill="#000"/>
<circle cx="81.53" cy="403.4" r="2.05" fill="#000"/>
<circle cx="87.16" cy="403.4" r="2.05" fill="#000"/>
<circle cx="92.79" cy="403.4" r="2.05" fill="#000"/>
<circle cx="98.41" cy="403.4" r="2.05" fill="#000"/>
<circle cx="104.04" cy="403.4" r="2.05" fill="#000"/>
<circle cx="109.67" cy="403.4" r="2.05" fill="#000"/>
<circle cx="115.3" cy="403.4" r="2.05" fill="#000"/>
<circle cx="120.93" cy="403.4" r="1.8" fill="#fff" stroke="#1a1a1a" stroke-width="0.95"/>
<circle cx="126.55" cy="403.4" r="2.05" fill="#000"/>
<circle cx="132.18" cy="403.4" r="2.05" fill="#000"/>
<circle cx="137.81" cy="403.4" r="2.05" fill="#000"/>
<circle cx="143.44" cy="403.4" r="2.05" fill="#000"/>
<circle cx="149.07" cy="403.4" r="2.05" fill="#000"/>
<circle cx="154.69" cy="403.4" r="2.05" fill="#000"/>
<circle cx="160.32" cy="403.4" r="2.05" fill="#000"/>
<circle cx="165.95" cy="403.4" r="2.05" fill="#000"/>
<circle cx="171.58" cy="403.4" r="2.05" fill="#000"/>
<circle cx="177.21" cy="403.4" r="2.05" fill="#000"/>
<circle cx="182.83" cy="403.4" r="2.05" fill="#000"/>
<circle cx="188.46" cy="403.4" r="2.05" fill="#000"/>
<circle cx="194.09" cy="403.4" r="2.05" fill="#000"/>
<circle cx="199.72" cy="403.4" r="2.05" fill="#000"/>
<circle cx="205.35" cy="403.4" r="2.05" fill="#000"/>
<rect x="208.77" y="401.20" width="4.4" height="4.4" fill="#000"/>
<rect x="214.40" y="401.20" width="4.4" height="4.4" fill="#000"/>
<line x1="21.05" y1="411.84" x2="219.20" y2="411.84" stroke="#222" stroke-width="0.9"/>
<circle cx="25.25" cy="411.84" r="2.05" fill="#000"/>
<circle cx="30.88" cy="411.84" r="2.05" fill="#000"/>
<circle cx="36.51" cy="411.84" r="2.05" fill="#000"/>
<circle cx="42.13" cy="411.84" r="2.05" fill="#000"/>
<circle cx="47.76" cy="411.84" r="2.05" fill="#000"/>
<circle cx="53.39" cy="411.84" r="2.05" fill="#000"/>
<circle cx="59.02" cy="411.84" r="2.05" fill="#000"/>
<circle cx="64.65" cy="411.84" r="2.05" fill="#000"/>
<circle cx="70.27" cy="411.84" r="2.05" fill="#000"/>
<circle cx="75.9" cy="411.84" r="2.05" fill="#000"/>
<circle cx="81.53" cy="411.84" r="2.05" fill="#000"/>
<circle cx="87.16" cy="411.84" r="2.05" fill="#000"/>
<circle cx="92.79" cy="411.84" r="2.05" fill="#000"/>
<circle cx="98.41" cy="411.84" r="2.05" fill="#000"/>
<circle cx="104.04" cy="411.84" r="2.05" fill="#000"/>
<circle cx="109.67" cy="411.84" r="2.05" fill="#000"/>
<circle cx="115.3" cy="411.84" r="2.05" fill="#000"/>
<circle cx="120.93" cy="411.84" r="1.8" fill="#fff" stroke="#1a1a1a" stroke-width="0.95"/>
<circle cx="126.55" cy="411.84" r="2.05" fill="#000"/>
<circle cx="132.18" cy="411.84" r="1.8" fill="#fff" stroke="#1a1a1a" stroke-width="0.95"/>
<circle cx="137.81" cy="411.84" r="2.05" fill="#000"/>
<circle cx="143.44" cy="411.84" r="2.05" fill="#000"/>
<circle cx="149.07" cy="411.84" r="1.8" fill="#fff" stroke="#1a1a1a" stroke-width="0.95"/>
<circle cx="154.69" cy="411.84" r="2.05" fill="#000"/>
<circle cx="160.32" cy="411.84" r="2.05" fill="#000"/>
<circle cx="165.95" cy="411.84" r="2.05" fill="#000"/>
<circle cx="171.58" cy="411.84" r="2.05" fill="#000"/>
<circle cx="177.21" cy="411.84" r="2.05" fill="#000"/>
<circle cx="182.83" cy="411.84" r="2.05" fill="#000"/>
<circle cx="188.46" cy="411.84" r="2.05" fill="#000"/>
<circle cx="194.09" cy="411.84" r="2.05" fill="#000"/>
<circle cx="199.72" cy="411.84" r="2.05" fill="#000"/>
<circle cx="205.35" cy="411.84" r="2.05" fill="#000"/>
<rect x="208.77" y="409.64" width="4.4" height="4.4" fill="#000"/>
<rect x="214.40" y="409.64" width="4.4" height="4.4" fill="#000"/>
<line x1="21.05" y1="420.28" x2="219.20" y2="420.28" stroke="#222" stroke-width="0.9"/>
<circle cx="25.25" cy="420.28" r="2.05" fill="#000"/>
<circle cx="30.88" cy="420.28" r="2.05" fill="#000"/>
<circle cx="36.51" cy="420.28" r="2.05" fill="#000"/>
<circle cx="42.13" cy="420.28" r="2.05" fill="#000"/>
<circle cx="47.76" cy="420.28" r="2.05" fill="#000"/>
<circle cx="53.39" cy="420.28" r="2.05" fill="#000"/>
<circle cx="59.02" cy="420.28" r="2.05" fill="#000"/>
<circle cx="64.65" cy="420.28" r="2.05" fill="#000"/>
<circle cx="70.27" cy="420.28" r="2.05" fill="#000"/>
<circle cx="75.9" cy="420.28" r="2.05" fill="#000"/>
<circle cx="81.53" cy="420.28" r="2.05" fill="#000"/>
<circle cx="87.16" cy="420.28" r="2.05" fill="#000"/>
<circle cx="92.79" cy="420.28" r="2.05" fill="#000"/>
<circle cx="98.41" cy="420.28" r="2.05" fill="#000"/>
<circle cx="104.04" cy="420.28" r="2.05" fill="#000"/>
<circle cx="109.67" cy="420.28" r="2.05" fill="#000"/>
<circle cx="115.3" cy="420.28" r="2.05" fill="#000"/>
<circle cx="120.93" cy="420.28" r="1.8" fill="#fff" stroke="#1a1a1a" stroke-width="0.95"/>
<circle cx="126.55" cy="420.28" r="2.05" fill="#000"/>
<circle cx="132.18" cy="420.28" r="2.05" fill="#000"/>
<circle cx="137.81" cy="420.28" r="2.05" fill="#000"/>
<circle cx="143.44" cy="420.28" r="2.05" fill="#000"/>
<circle cx="149.07" cy="420.28" r="2.05" fill="#000"/>
<circle cx="154.69" cy="420.28" r="2.05" fill="#000"/>
<circle cx="160.32" cy="420.28" r="2.05" fill="#000"/>
<circle cx="165.95" cy="420.28" r="2.05" fill="#000"/>
<circle cx="171.58" cy="420.28" r="2.05" fill="#000"/>
<circle cx="177.21" cy="420.28" r="2.05" fill="#000"/>
<circle cx="182.83" cy="420.28" r="2.05" fill="#000"/>
<circle cx="188.46" cy="420.28" r="2.05" fill="#000"/>
<circle cx="194.09" cy="420.28" r="2.05" fill="#000"/>
<circle cx="199.72" cy="420.28" r="2.05" fill="#000"/>
<circle cx="205.35" cy="420.28" r="2.05" fill="#000"/>
<rect x="208.77" y="418.08" width="4.4" height="4.4" fill="#000"/>
<rect x="214.40" y="418.08" width="4.4" height="4.4" fill="#000"/>
<line x1="21.05" y1="428.72" x2="219.20" y2="428.72" stroke="#222" stroke-width="0.9"/>
<circle cx="25.25" cy="428.72" r="2.05" fill="#000"/>
<circle cx="30.88" cy="428.72" r="2.05" fill="#000"/>
<circle cx="36.51" cy="428.72" r="2.05" fill="#000"/>
<circle cx="42.13" cy="428.72" r="2.05" fill="#000"/>
<circle cx="47.76" cy="428.72" r="2.05" fill="#000"/>
<circle cx="53.39" cy="428.72" r="2.05" fill="#000"/>
<circle cx="59.02" cy="428.72" r="2.05" fill="#000"/>
<circle cx="64.65" cy="428.72" r="2.05" fill="#000"/>
<circle cx="70.27" cy="428.72" r="2.05" fill="#000"/>
<circle cx="75.9" cy="428.72" r="2.05" fill="#000"/>
<circle cx="81.53" cy="428.72" r="2.05" fill="#000"/>
<circle cx="87.16" cy="428.72" r="2.05" fill="#000"/>
<circle cx="92.79" cy="428.72" r="2.05" fill="#000"/>
<circle cx="98.41" cy="428.72" r="2.05" fill="#000"/>
<circle cx="104.04" cy="428.72" r="2.05" fill="#000"/>
<circle cx="109.67" cy="428.72" r="2.05" fill="#000"/>
<circle cx="115.3" cy="428.72" r="2.05" fill="#000"/>
<circle cx="120.93" cy="428.72" r="2.05" fill="#000"/>
<circle cx="126.55" cy="428.72" r="2.05" fill="#000"/>
<circle cx="132.18" cy="428.72" r="2.05" fill="#000"/>
<circle cx="137.81" cy="428.72" r="2.05" fill="#000"/>
<circle cx="143.44" cy="428.72" r="2.05" fill="#000"/>
<circle cx="149.07" cy="428.72" r="2.05" fill="#000"/>
<circle cx="154.69" cy="428.72" r="2.05" fill="#000"/>
<circle cx="160.32" cy="428.72" r="2.05" fill="#000"/>
<circle cx="165.95" cy="428.72" r="2.05" fill="#000"/>
<circle cx="171.58" cy="428.72" r="2.05" fill="#000"/>
<circle cx="177.21" cy="428.72" r="2.05" fill="#000"/>
<circle cx="182.83" cy="428.72" r="2.05" fill="#000"/>
<circle cx="188.46" cy="428.72" r="2.05" fill="#000"/>
<circle cx="194.09" cy="428.72" r="2.05" fill="#000"/>
<circle cx="199.72" cy="428.72" r="2.05" fill="#000"/>
<circle cx="205.35" cy="428.72" r="2.05" fill="#000"/>
<rect x="208.77" y="426.52" width="4.4" height="4.4" fill="#000"/>
<rect x="214.40" y="426.52" width="4.4" height="4.4" fill="#000"/>
<line x1="21.05" y1="437.16" x2="219.20" y2="437.16" stroke="#222" stroke-width="0.9"/>
<circle cx="25.25" cy="437.16" r="2.05" fill="#000"/>
<circle cx="30.88" cy="437.16" r="2.05" fill="#000"/>
<circle cx="36.51" cy="437.16" r="2.05" fill="#000"/>
<circle cx="42.13" cy="437.16" r="2.05" fill="#000"/>
<circle cx="47.76" cy="437.16" r="2.05" fill="#000"/>
<circle cx="53.39" cy="437.16" r="2.05" fill="#000"/>
<circle cx="59.02" cy="437.16" r="2.05" fill="#000"/>
<circle cx="64.65" cy="437.16" r="2.05" fill="#000"/>
<circle cx="70.27" cy="437.16" r="2.05" fill="#000"/>
<circle cx="75.9" cy="437.16" r="2.05" fill="#000"/>
<circle cx="81.53" cy="437.16" r="2.05" fill="#000"/>
<circle cx="87.16" cy="437.16" r="1.8" fill="#fff" stroke="#1a1a1a" stroke-width="0.95"/>
<circle cx="92.79" cy="437.16" r="2.05" fill="#000"/>
<circle cx="98.41" cy="437.16" r="2.05" fill="#000"/>
<circle cx="104.04" cy="437.16" r="2.05" fill="#000"/>
<circle cx="109.67" cy="437.16" r="2.05" fill="#000"/>
<circle cx="115.3" cy="437.16" r="2.05" fill="#000"/>
<circle cx="120.93" cy="437.16" r="2.05" fill="#000"/>
<circle cx="126.55" cy="437.16" r="2.05" fill="#000"/>
<circle cx="132.18" cy="437.16" r="2.05" fill="#000"/>
<circle cx="137.81" cy="437.16" r="2.05" fill="#000"/>
<circle cx="143.44" cy="437.16" r="2.05" fill="#000"/>
<circle cx="149.07" cy="437.16" r="2.05" fill="#000"/>
<circle cx="154.69" cy="437.16" r="2.05" fill="#000"/>
<circle cx="160.32" cy="437.16" r="2.05" fill="#000"/>
<circle cx="165.95" cy="437.16" r="2.05" fill="#000"/>
<circle cx="171.58" cy="437.16" r="2.05" fill="#000"/>
<circle cx="177.21" cy="437.16" r="2.05" fill="#000"/>
<circle cx="182.83" cy="437.16" r="2.05" fill="#000"/>
<circle cx="188.46" cy="437.16" r="2.05" fill="#000"/>
<circle cx="194.09" cy="437.16" r="2.05" fill="#000"/>
<circle cx="199.72" cy="437.16" r="2.05" fill="#000"/>
<circle cx="205.35" cy="437.16" r="1.8" fill="#fff" stroke="#1a1a1a" stroke-width="0.95"/>
<rect x="208.77" y="434.96" width="4.4" height="4.4" fill="#000"/>
<rect x="214.40" y="434.96" width="4.4" height="4.4" fill="#000"/>
<text x="235.5" y="16.8" font-family='"Liberation Sans", sans-serif' font-weight="bold" font-size="19.5">B</text>
<text transform="translate(322.4,97.3) rotate(-90) scale(0.962,1)" text-anchor="middle" font-family='"Liberation Serif", serif' font-size="12.8" fill="#111">Normalized <tspan font-style="italic">Spry2</tspan> Expression</text>
<line x1="352" y1="19.3" x2="352" y2="175.5" stroke="#000" stroke-width="1.6"/>
<line x1="348.4" y1="175.50" x2="352" y2="175.50" stroke="#000" stroke-width="1.2"/>
<text x="341.8" y="173.00" text-anchor="end" font-family='"Liberation Serif", serif' font-size="10" fill="#111">10</text>
<text x="342.1" y="169.40" font-family='"Liberation Serif", serif' font-size="6.5" fill="#111">0</text>
<line x1="348.4" y1="144.35" x2="352" y2="144.35" stroke="#000" stroke-width="1.2"/>
<text x="341.8" y="147.55" text-anchor="end" font-family='"Liberation Serif", serif' font-size="10" fill="#111">10</text>
<text x="342.1" y="143.95" font-family='"Liberation Serif", serif' font-size="6.5" fill="#111">1</text>
<line x1="348.4" y1="113.20" x2="352" y2="113.20" stroke="#000" stroke-width="1.2"/>
<text x="341.8" y="116.40" text-anchor="end" font-family='"Liberation Serif", serif' font-size="10" fill="#111">10</text>
<text x="342.1" y="112.80" font-family='"Liberation Serif", serif' font-size="6.5" fill="#111">2</text>
<line x1="348.4" y1="82.05" x2="352" y2="82.05" stroke="#000" stroke-width="1.2"/>
<text x="341.8" y="85.25" text-anchor="end" font-family='"Liberation Serif", serif' font-size="10" fill="#111">10</text>
<text x="342.1" y="81.65" font-family='"Liberation Serif", serif' font-size="6.5" fill="#111">3</text>
<line x1="348.4" y1="50.90" x2="352" y2="50.90" stroke="#000" stroke-width="1.2"/>
<text x="341.8" y="54.10" text-anchor="end" font-family='"Liberation Serif", serif' font-size="10" fill="#111">10</text>
<text x="342.1" y="50.50" font-family='"Liberation Serif", serif' font-size="6.5" fill="#111">4</text>
<line x1="348.4" y1="19.75" x2="352" y2="19.75" stroke="#000" stroke-width="1.2"/>
<text x="341.8" y="22.95" text-anchor="end" font-family='"Liberation Serif", serif' font-size="10" fill="#111">10</text>
<text x="342.1" y="19.35" font-family='"Liberation Serif", serif' font-size="6.5" fill="#111">5</text>
<line x1="364.50" y1="36.20" x2="364.50" y2="47.70" stroke="#111" stroke-width="1.3"/><line x1="362.50" y1="36.20" x2="366.50" y2="36.20" stroke="#111" stroke-width="1.3"/><rect x="357.10" y="46.70" width="14.80" height="128.80" fill="#000"/>
<line x1="389.30" y1="142.00" x2="389.30" y2="146.50" stroke="#111" stroke-width="1.3"/><line x1="387.30" y1="142.00" x2="391.30" y2="142.00" stroke="#111" stroke-width="1.3"/><rect x="382.00" y="145.50" width="14.60" height="30.00" fill="#000"/>
<line x1="439.55" y1="141.30" x2="439.55" y2="149.40" stroke="#111" stroke-width="1.3"/><line x1="437.55" y1="141.30" x2="441.55" y2="141.30" stroke="#111" stroke-width="1.3"/><rect x="432.40" y="148.40" width="14.30" height="27.10" fill="#000"/>
<text x="403.8" y="164.6" font-family='"Liberation Serif", serif' font-size="10" fill="#111">N.D.</text>
<rect x="348.3" y="174.8" width="103.4" height="1.6" fill="#000"/>
<rect x="350.9" y="179" width="102" height="11.8" fill="#161616"/>
<rect x="350.9" y="193.4" width="102" height="11.6" fill="#161616"/>
<rect x="379" y="185.20" width="18" height="2.2" rx="1" fill="#707070"/>
<rect x="404.5" y="184.80" width="19.0" height="2.6" rx="1" fill="#b8b8b8"/>
<rect x="430" y="184.70" width="18.5" height="2.8" rx="1" fill="#f0f0f0"/>
<rect x="357" y="199.00" width="17.19999999999999" height="2.2" rx="1" fill="#888888"/>
<g font-family='"Liberation Serif", serif' font-size="11" fill="#111">
<text x="338" y="189">M</text>
<text x="339.6" y="204">U</text>
</g>
<g font-family='"Liberation Serif", serif' font-size="11.2" fill="#111" text-anchor="end">
<text transform="translate(370.20,208.8) rotate(-90)">3-1</text>
<text transform="translate(394.20,208.8) rotate(-90)">Wehi</text>
<text transform="translate(418.60,208.8) rotate(-90)">Bal 117</text>
<text transform="translate(444.90,208.8) rotate(-90)">A20</text>
</g>
<text x="233.6" y="264.8" font-family='"Liberation Sans", sans-serif' font-weight="bold" font-size="19">C</text>
<text transform="translate(261.3,364.1) rotate(-90) scale(0.975,1)" text-anchor="middle" font-family='"Liberation Serif", serif' font-size="12.6" fill="#111">Normalized <tspan font-style="italic">Spry2</tspan> Expression</text>
<line x1="304.43" y1="301.30" x2="304.43" y2="304.10" stroke="#111" stroke-width="1.2"/><line x1="302.23" y1="301.30" x2="306.62" y2="301.30" stroke="#111" stroke-width="1.2"/><rect x="297.50" y="303.10" width="13.85" height="136.80" fill="#fff" stroke="#aaa" stroke-width="0.8"/>
<line x1="318.28" y1="291.00" x2="318.28" y2="298.30" stroke="#111" stroke-width="1.2"/><line x1="316.08" y1="291.00" x2="320.48" y2="291.00" stroke="#111" stroke-width="1.2"/><rect x="311.35" y="297.30" width="13.85" height="142.60" fill="#c2c2c2" stroke="#808080" stroke-width="0.8"/>
<line x1="332.12" y1="307.30" x2="332.12" y2="312.30" stroke="#111" stroke-width="1.2"/><line x1="329.93" y1="307.30" x2="334.32" y2="307.30" stroke="#111" stroke-width="1.2"/><rect x="325.20" y="311.30" width="13.85" height="128.60" fill="#6b6b6b" stroke="#333" stroke-width="0.8"/>
<line x1="345.98" y1="311.50" x2="345.98" y2="313.90" stroke="#111" stroke-width="1.2"/><line x1="343.78" y1="311.50" x2="348.18" y2="311.50" stroke="#111" stroke-width="1.2"/><rect x="339.05" y="312.90" width="13.85" height="127.00" fill="#000"/>
<line x1="359.82" y1="432.80" x2="359.82" y2="438.80" stroke="#111" stroke-width="1.2"/><line x1="357.62" y1="432.80" x2="362.02" y2="432.80" stroke="#111" stroke-width="1.2"/><rect x="352.90" y="437.80" width="13.85" height="2.10" fill="#fff" stroke="#aaa" stroke-width="0.8"/>
<line x1="373.68" y1="387.80" x2="373.68" y2="393.20" stroke="#111" stroke-width="1.2"/><line x1="371.48" y1="387.80" x2="375.88" y2="387.80" stroke="#111" stroke-width="1.2"/><rect x="366.75" y="392.20" width="13.85" height="47.70" fill="#c2c2c2" stroke="#808080" stroke-width="0.8"/>
<line x1="387.52" y1="365.00" x2="387.52" y2="370.10" stroke="#111" stroke-width="1.2"/><line x1="385.32" y1="365.00" x2="389.72" y2="365.00" stroke="#111" stroke-width="1.2"/><rect x="380.60" y="369.10" width="13.85" height="70.80" fill="#6b6b6b" stroke="#333" stroke-width="0.8"/>
<line x1="401.38" y1="362.00" x2="401.38" y2="367.40" stroke="#111" stroke-width="1.2"/><line x1="399.18" y1="362.00" x2="403.57" y2="362.00" stroke="#111" stroke-width="1.2"/><rect x="394.45" y="366.40" width="13.85" height="73.50" fill="#000"/>
<line x1="428.68" y1="375.50" x2="428.68" y2="380.00" stroke="#111" stroke-width="1.2"/><line x1="426.48" y1="375.50" x2="430.88" y2="375.50" stroke="#111" stroke-width="1.2"/><rect x="421.75" y="379.00" width="13.85" height="60.90" fill="#c2c2c2" stroke="#808080" stroke-width="0.8"/>
<line x1="442.52" y1="372.60" x2="442.52" y2="377.50" stroke="#111" stroke-width="1.2"/><line x1="440.32" y1="372.60" x2="444.72" y2="372.60" stroke="#111" stroke-width="1.2"/><rect x="435.60" y="376.50" width="13.85" height="63.40" fill="#6b6b6b" stroke="#333" stroke-width="0.8"/>
<line x1="456.38" y1="386.30" x2="456.38" y2="392.60" stroke="#111" stroke-width="1.2"/><line x1="454.18" y1="386.30" x2="458.57" y2="386.30" stroke="#111" stroke-width="1.2"/><rect x="449.45" y="391.60" width="13.85" height="48.30" fill="#000"/>
<line x1="469.73" y1="432.10" x2="469.73" y2="440.80" stroke="#111" stroke-width="1.2"/><line x1="467.53" y1="432.10" x2="471.93" y2="432.10" stroke="#111" stroke-width="1.2"/><rect x="462.80" y="439.80" width="13.85" height="0.10" fill="#fff" stroke="#aaa" stroke-width="0.8"/>
<line x1="483.58" y1="359.00" x2="483.58" y2="363.30" stroke="#111" stroke-width="1.2"/><line x1="481.38" y1="359.00" x2="485.78" y2="359.00" stroke="#111" stroke-width="1.2"/><rect x="476.65" y="362.30" width="13.85" height="77.60" fill="#c2c2c2" stroke="#808080" stroke-width="0.8"/>
<line x1="497.43" y1="349.20" x2="497.43" y2="354.50" stroke="#111" stroke-width="1.2"/><line x1="495.23" y1="349.20" x2="499.62" y2="349.20" stroke="#111" stroke-width="1.2"/><rect x="490.50" y="353.50" width="13.85" height="86.40" fill="#6b6b6b" stroke="#333" stroke-width="0.8"/>
<line x1="511.28" y1="366.40" x2="511.28" y2="376.00" stroke="#111" stroke-width="1.2"/><line x1="509.08" y1="366.40" x2="513.48" y2="366.40" stroke="#111" stroke-width="1.2"/><rect x="504.35" y="375.00" width="13.85" height="64.90" fill="#000"/>
<line x1="297.4" y1="271.5" x2="297.4" y2="443.5" stroke="#000" stroke-width="2"/>
<line x1="294.6" y1="440.30" x2="298.4" y2="440.30" stroke="#000" stroke-width="2"/>
<text x="288" y="443.80" text-anchor="end" font-family='"Liberation Serif", serif' font-size="10.5" fill="#111">1</text>
<line x1="297.4" y1="427.62" x2="299.7" y2="427.62" stroke="#000" stroke-width="1.3"/>
<line x1="297.4" y1="420.20" x2="299.7" y2="420.20" stroke="#000" stroke-width="1.3"/>
<line x1="297.4" y1="414.94" x2="299.7" y2="414.94" stroke="#000" stroke-width="1.3"/>
<line x1="297.4" y1="410.86" x2="299.7" y2="410.86" stroke="#000" stroke-width="1.3"/>
<line x1="297.4" y1="407.52" x2="299.7" y2="407.52" stroke="#000" stroke-width="1.3"/>
<line x1="297.4" y1="404.70" x2="299.7" y2="404.70" stroke="#000" stroke-width="1.3"/>
<line x1="297.4" y1="402.26" x2="299.7" y2="402.26" stroke="#000" stroke-width="1.3"/>
<line x1="297.4" y1="400.11" x2="299.7" y2="400.11" stroke="#000" stroke-width="1.3"/>
<line x1="294.6" y1="398.18" x2="298.4" y2="398.18" stroke="#000" stroke-width="2"/>
<text x="288" y="401.68" text-anchor="end" font-family='"Liberation Serif", serif' font-size="10.5" fill="#111">10</text>
<line x1="297.4" y1="385.50" x2="299.7" y2="385.50" stroke="#000" stroke-width="1.3"/>
<line x1="297.4" y1="378.08" x2="299.7" y2="378.08" stroke="#000" stroke-width="1.3"/>
<line x1="297.4" y1="372.82" x2="299.7" y2="372.82" stroke="#000" stroke-width="1.3"/>
<line x1="297.4" y1="368.74" x2="299.7" y2="368.74" stroke="#000" stroke-width="1.3"/>
<line x1="297.4" y1="365.40" x2="299.7" y2="365.40" stroke="#000" stroke-width="1.3"/>
<line x1="297.4" y1="362.58" x2="299.7" y2="362.58" stroke="#000" stroke-width="1.3"/>
<line x1="297.4" y1="360.14" x2="299.7" y2="360.14" stroke="#000" stroke-width="1.3"/>
<line x1="297.4" y1="357.99" x2="299.7" y2="357.99" stroke="#000" stroke-width="1.3"/>
<line x1="294.6" y1="356.06" x2="298.4" y2="356.06" stroke="#000" stroke-width="2"/>
<text x="288" y="359.56" text-anchor="end" font-family='"Liberation Serif", serif' font-size="10.5" fill="#111">100</text>
<line x1="297.4" y1="343.38" x2="299.7" y2="343.38" stroke="#000" stroke-width="1.3"/>
<line x1="297.4" y1="335.96" x2="299.7" y2="335.96" stroke="#000" stroke-width="1.3"/>
<line x1="297.4" y1="330.70" x2="299.7" y2="330.70" stroke="#000" stroke-width="1.3"/>
<line x1="297.4" y1="326.62" x2="299.7" y2="326.62" stroke="#000" stroke-width="1.3"/>
<line x1="297.4" y1="323.28" x2="299.7" y2="323.28" stroke="#000" stroke-width="1.3"/>
<line x1="297.4" y1="320.46" x2="299.7" y2="320.46" stroke="#000" stroke-width="1.3"/>
<line x1="297.4" y1="318.02" x2="299.7" y2="318.02" stroke="#000" stroke-width="1.3"/>
<line x1="297.4" y1="315.87" x2="299.7" y2="315.87" stroke="#000" stroke-width="1.3"/>
<line x1="294.6" y1="313.94" x2="298.4" y2="313.94" stroke="#000" stroke-width="2"/>
<text x="288" y="317.44" text-anchor="end" font-family='"Liberation Serif", serif' font-size="10.5" fill="#111">1000</text>
<line x1="297.4" y1="301.26" x2="299.7" y2="301.26" stroke="#000" stroke-width="1.3"/>
<line x1="297.4" y1="293.84" x2="299.7" y2="293.84" stroke="#000" stroke-width="1.3"/>
<line x1="297.4" y1="288.58" x2="299.7" y2="288.58" stroke="#000" stroke-width="1.3"/>
<line x1="297.4" y1="284.50" x2="299.7" y2="284.50" stroke="#000" stroke-width="1.3"/>
<line x1="297.4" y1="281.16" x2="299.7" y2="281.16" stroke="#000" stroke-width="1.3"/>
<line x1="297.4" y1="278.34" x2="299.7" y2="278.34" stroke="#000" stroke-width="1.3"/>
<line x1="297.4" y1="275.90" x2="299.7" y2="275.90" stroke="#000" stroke-width="1.3"/>
<line x1="297.4" y1="273.75" x2="299.7" y2="273.75" stroke="#000" stroke-width="1.3"/>
<line x1="294.6" y1="271.82" x2="298.4" y2="271.82" stroke="#000" stroke-width="2"/>
<text x="288" y="275.32" text-anchor="end" font-family='"Liberation Serif", serif' font-size="10.5" fill="#111">10000</text>
<rect x="296.3" y="439.8" width="223" height="2" fill="#000"/>
<line x1="352.9" y1="440.5" x2="352.9" y2="443.8" stroke="#000" stroke-width="1.2"/>
<line x1="407.9" y1="440.5" x2="407.9" y2="443.8" stroke="#000" stroke-width="1.2"/>
<line x1="462.8" y1="440.5" x2="462.8" y2="443.8" stroke="#000" stroke-width="1.2"/>
<line x1="518.3" y1="440.5" x2="518.3" y2="443.8" stroke="#000" stroke-width="1.2"/>
<text x="408.9" y="435.6" font-family='"Liberation Serif", serif' font-size="6" fill="#111">N.D</text>
<g font-family='"Liberation Serif", serif' font-size="12.6" fill="#111" text-anchor="middle">
<text x="322.4" y="455.6">3-1</text>
<text x="380.1" y="455.6">Wehi</text>
<text x="435.2" y="455.6">Bal 117</text>
<text x="490.2" y="455.6">A20</text>
</g>
<rect x="377.8" y="272.70" width="12.4" height="11.4" fill="#fff" stroke="#2a2a2a" stroke-width="1.4"/>
<text x="398.1" y="281.60" font-family='"Liberation Serif", serif' font-size="12.3" fill="#111">Mock</text>
<rect x="377.8" y="290.20" width="12.4" height="11.4" fill="#c6c6c6" stroke="#2a2a2a" stroke-width="1.4"/>
<text x="398.1" y="299.10" font-family='"Liberation Serif", serif' font-size="12.3" fill="#111">1μM 5-Aza-dC</text>
<rect x="377.8" y="307.70" width="12.4" height="11.4" fill="#585858" stroke="#2a2a2a" stroke-width="1.4"/>
<text x="398.1" y="316.60" font-family='"Liberation Serif", serif' font-size="12.3" fill="#111">5μM 5-Aza-dC</text>
<rect x="377.8" y="325.30" width="12.4" height="11.4" fill="#000" stroke="#2a2a2a" stroke-width="1.4"/>
<text x="398.1" y="334.20" font-family='"Liberation Serif", serif' font-size="12.3" fill="#111">1μM 5-Aza-dC + TSA</text>
</svg>
</body></html>
